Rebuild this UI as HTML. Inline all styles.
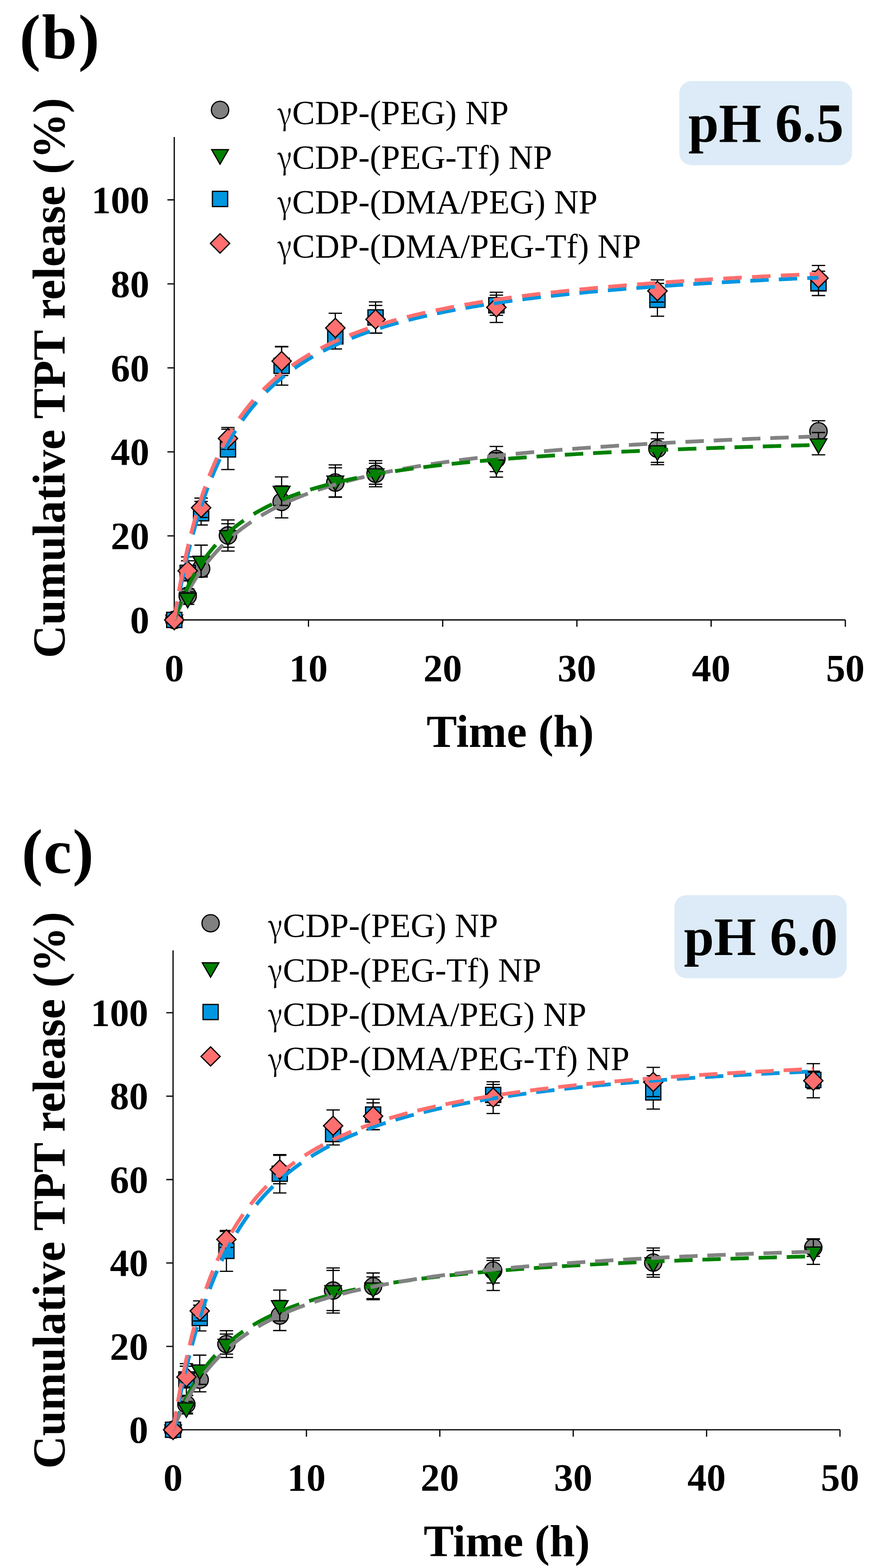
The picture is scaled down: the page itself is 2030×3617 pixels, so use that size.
<!DOCTYPE html>
<html><head><meta charset="utf-8"><title>Cumulative TPT release</title>
<style>html,body{margin:0;padding:0;background:#fff;}svg{display:block;}</style>
</head><body>
<svg width="2030" height="3617" viewBox="0 0 2030 3617" font-family="'Liberation Serif','Times New Roman',serif">
<rect width="2030" height="3617" fill="#fff"/>
<path d="M402 316V1430H1950M386.2 1430H402M386.2 1236.2H402M386.2 1042.4H402M386.2 848.6H402M386.2 654.8H402M386.2 461H402M402 1430V1445.8M711.6 1430V1445.8M1021.2 1430V1445.8M1330.8 1430V1445.8M1640.4 1430V1445.8M1950 1430V1445.8" stroke="#000" stroke-width="2.8" fill="none"/>
<g font-size="89" font-weight="bold"><text x="344.4" y="1460" text-anchor="end">0</text><text x="344.4" y="1266.2" text-anchor="end">20</text><text x="344.4" y="1072.4" text-anchor="end">40</text><text x="344.4" y="878.6" text-anchor="end">60</text><text x="344.4" y="684.8" text-anchor="end">80</text><text x="344.4" y="491" text-anchor="end">100</text><text x="402" y="1570.5" text-anchor="middle">0</text><text x="711.6" y="1570.5" text-anchor="middle">10</text><text x="1021.2" y="1570.5" text-anchor="middle">20</text><text x="1330.8" y="1570.5" text-anchor="middle">30</text><text x="1640.4" y="1570.5" text-anchor="middle">40</text><text x="1950" y="1570.5" text-anchor="middle">50</text></g>
<text transform="translate(148.6,872.1) rotate(-90)" text-anchor="middle" font-size="105.5" font-weight="bold">Cumulative TPT release (%)</text>
<text x="1177" y="1722.9" text-anchor="middle" font-size="105" font-weight="bold">Time (h)</text>
<text x="45" y="135" font-size="146" font-weight="bold" letter-spacing="3">(b)</text>
<rect x="1567" y="187" width="398.6" height="194" rx="28" fill="#dcebf7"/>
<text x="1587.7" y="327" font-size="126.5" font-weight="bold">pH 6.5</text>
<circle cx="507.6" cy="253.7" r="20" fill="#808080" stroke="#000" stroke-width="2.8"/>
<text transform="translate(639.4,287.6) scale(0.878,1)" font-family="'Noto Serif CJK SC',serif" font-size="72.6">γ</text>
<text x="674.09" y="286.3" font-size="78.5">CDP-(PEG) NP</text>
<polygon points="488.26,345.13 526.94,345.13 507.6,378.63" fill="#008000" stroke="#000" stroke-width="2.8"/>
<text transform="translate(639.4,390.2) scale(0.878,1)" font-family="'Noto Serif CJK SC',serif" font-size="72.6">γ</text>
<text x="674.09" y="388.9" font-size="78.5">CDP-(PEG-Tf) NP</text>
<rect x="490" y="441.3" width="35.2" height="35.2" fill="#0096e0" stroke="#000" stroke-width="2.8"/>
<text transform="translate(639.4,492.8) scale(0.878,1)" font-family="'Noto Serif CJK SC',serif" font-size="72.6">γ</text>
<text x="674.09" y="491.5" font-size="78.5">CDP-(DMA/PEG) NP</text>
<polygon points="507.6,539.2 529.9,561.5 507.6,583.8 485.3,561.5" fill="#ff6f6f" stroke="#000" stroke-width="2.8"/>
<text transform="translate(639.4,595.4) scale(0.878,1)" font-family="'Noto Serif CJK SC',serif" font-size="72.6">γ</text>
<text x="674.09" y="594.1" font-size="78.5">CDP-(DMA/PEG-Tf) NP</text>
<g stroke="#000" stroke-width="2.8" fill="none"><path d="M432.96 1359.94V1389.01M417.46 1359.94H448.46M417.46 1389.01H448.46"/><path d="M463.92 1295.31V1328.25M448.42 1295.31H479.42M448.42 1328.25H479.42"/><path d="M525.84 1199.38V1271.08M510.34 1199.38H541.34M510.34 1271.08H541.34"/><path d="M649.68 1120.89V1194.53M634.18 1120.89H665.18M634.18 1194.53H665.18"/><path d="M773.52 1079.22V1147.05M758.02 1079.22H789.02M758.02 1147.05H789.02"/><path d="M866.4 1062.75V1122.83M850.9 1062.75H881.9M850.9 1122.83H881.9"/><path d="M1145.04 1029.8V1087.94M1129.54 1029.8H1160.54M1129.54 1087.94H1160.54"/><path d="M1516.56 998.21V1071.86M1501.06 998.21H1532.06M1501.06 1071.86H1532.06"/><path d="M1888.08 970.69V1019.14M1872.58 970.69H1903.58M1872.58 1019.14H1903.58"/></g>
<circle cx="402" cy="1430" r="20" fill="#808080" stroke="#000" stroke-width="2.8"/>
<circle cx="432.96" cy="1374.48" r="20" fill="#808080" stroke="#000" stroke-width="2.8"/>
<circle cx="463.92" cy="1311.78" r="20" fill="#808080" stroke="#000" stroke-width="2.8"/>
<circle cx="525.84" cy="1235.23" r="20" fill="#808080" stroke="#000" stroke-width="2.8"/>
<circle cx="649.68" cy="1157.71" r="20" fill="#808080" stroke="#000" stroke-width="2.8"/>
<circle cx="773.52" cy="1113.14" r="20" fill="#808080" stroke="#000" stroke-width="2.8"/>
<circle cx="866.4" cy="1092.79" r="20" fill="#808080" stroke="#000" stroke-width="2.8"/>
<circle cx="1145.04" cy="1058.87" r="20" fill="#808080" stroke="#000" stroke-width="2.8"/>
<circle cx="1516.56" cy="1035.04" r="20" fill="#808080" stroke="#000" stroke-width="2.8"/>
<circle cx="1888.08" cy="994.92" r="20" fill="#808080" stroke="#000" stroke-width="2.8"/>
<g stroke="#000" stroke-width="2.8" fill="none"><path d="M432.96 1365.08V1394.15M417.46 1365.08H448.46M417.46 1394.15H448.46"/><path d="M463.92 1257.52V1331.16M448.42 1257.52H479.42M448.42 1331.16H479.42"/><path d="M525.84 1208.1V1262.36M510.34 1208.1H541.34M510.34 1262.36H541.34"/><path d="M649.68 1100.06V1165.95M634.18 1100.06H665.18M634.18 1165.95H665.18"/><path d="M773.52 1072.44V1146.08M758.02 1072.44H789.02M758.02 1146.08H789.02"/><path d="M866.4 1068.56V1117.01M850.9 1068.56H881.9M850.9 1117.01H881.9"/><path d="M1145.04 1044.34V1100.54M1129.54 1044.34H1160.54M1129.54 1100.54H1160.54"/><path d="M1516.56 1012.36V1066.62M1501.06 1012.36H1532.06M1501.06 1066.62H1532.06"/><path d="M1888.08 997.73V1049.09M1872.58 997.73H1903.58M1872.58 1049.09H1903.58"/></g>
<polygon points="382.66,1418.83 421.34,1418.83 402,1452.33" fill="#008000" stroke="#000" stroke-width="2.8"/>
<polygon points="413.62,1368.45 452.3,1368.45 432.96,1401.95" fill="#008000" stroke="#000" stroke-width="2.8"/>
<polygon points="444.58,1283.17 483.26,1283.17 463.92,1316.67" fill="#008000" stroke="#000" stroke-width="2.8"/>
<polygon points="506.5,1224.06 545.18,1224.06 525.84,1257.56" fill="#008000" stroke="#000" stroke-width="2.8"/>
<polygon points="630.34,1121.83 669.02,1121.83 649.68,1155.33" fill="#008000" stroke="#000" stroke-width="2.8"/>
<polygon points="754.18,1098.09 792.86,1098.09 773.52,1131.59" fill="#008000" stroke="#000" stroke-width="2.8"/>
<polygon points="847.06,1081.62 885.74,1081.62 866.4,1115.12" fill="#008000" stroke="#000" stroke-width="2.8"/>
<polygon points="1125.7,1061.27 1164.38,1061.27 1145.04,1094.77" fill="#008000" stroke="#000" stroke-width="2.8"/>
<polygon points="1497.22,1028.33 1535.9,1028.33 1516.56,1061.83" fill="#008000" stroke="#000" stroke-width="2.8"/>
<polygon points="1868.74,1012.24 1907.42,1012.24 1888.08,1045.74" fill="#008000" stroke="#000" stroke-width="2.8"/>
<g stroke="#000" stroke-width="2.8" fill="none"><path d="M432.96 1284.65V1358.29M417.46 1284.65H448.46M417.46 1358.29H448.46"/><path d="M463.92 1156.74V1211.01M448.42 1156.74H479.42M448.42 1211.01H479.42"/><path d="M525.84 990.07V1083.1M510.34 990.07H541.34M510.34 1083.1H541.34"/><path d="M649.68 799.18V888.33M634.18 799.18H665.18M634.18 888.33H665.18"/><path d="M773.52 746.86V805M758.02 746.86H789.02M758.02 805H789.02"/><path d="M866.4 696.47V768.17M850.9 696.47H881.9M850.9 768.17H881.9"/><path d="M1145.04 680.96V727.47M1129.54 680.96H1160.54M1129.54 727.47H1160.54"/><path d="M1516.56 653.83V729.41M1501.06 653.83H1532.06M1501.06 729.41H1532.06"/><path d="M1888.08 625.54V681.74M1872.58 625.54H1903.58M1872.58 681.74H1903.58"/></g>
<rect x="384.4" y="1412.4" width="35.2" height="35.2" fill="#0096e0" stroke="#000" stroke-width="2.8"/>
<rect x="415.36" y="1303.87" width="35.2" height="35.2" fill="#0096e0" stroke="#000" stroke-width="2.8"/>
<rect x="446.32" y="1166.27" width="35.2" height="35.2" fill="#0096e0" stroke="#000" stroke-width="2.8"/>
<rect x="508.24" y="1018.99" width="35.2" height="35.2" fill="#0096e0" stroke="#000" stroke-width="2.8"/>
<rect x="632.08" y="826.15" width="35.2" height="35.2" fill="#0096e0" stroke="#000" stroke-width="2.8"/>
<rect x="755.92" y="758.33" width="35.2" height="35.2" fill="#0096e0" stroke="#000" stroke-width="2.8"/>
<rect x="848.8" y="714.72" width="35.2" height="35.2" fill="#0096e0" stroke="#000" stroke-width="2.8"/>
<rect x="1127.44" y="686.62" width="35.2" height="35.2" fill="#0096e0" stroke="#000" stroke-width="2.8"/>
<rect x="1498.96" y="674.02" width="35.2" height="35.2" fill="#0096e0" stroke="#000" stroke-width="2.8"/>
<rect x="1870.48" y="636.04" width="35.2" height="35.2" fill="#0096e0" stroke="#000" stroke-width="2.8"/>
<g stroke="#000" stroke-width="2.8" fill="none"><path d="M432.96 1293.56V1340.08M417.46 1293.56H448.46M417.46 1340.08H448.46"/><path d="M463.92 1148.99V1193.56M448.42 1148.99H479.42M448.42 1193.56H479.42"/><path d="M525.84 986.2V1036.59M510.34 986.2H541.34M510.34 1036.59H541.34"/><path d="M649.68 800.15V866.04M634.18 800.15H665.18M634.18 866.04H665.18"/><path d="M773.52 722.63V790.46M758.02 722.63H789.02M758.02 790.46H789.02"/><path d="M866.4 704.7V768.66M850.9 704.7H881.9M850.9 768.66H881.9"/><path d="M1145.04 674.18V743.95M1129.54 674.18H1160.54M1129.54 743.95H1160.54"/><path d="M1516.56 645.59V696.95M1501.06 645.59H1532.06M1501.06 696.95H1532.06"/><path d="M1888.08 612.45V670.59M1872.58 612.45H1903.58M1872.58 670.59H1903.58"/></g>
<polygon points="402,1407.7 424.3,1430 402,1452.3 379.7,1430" fill="#ff6f6f" stroke="#000" stroke-width="2.8"/>
<polygon points="432.96,1294.52 455.26,1316.82 432.96,1339.12 410.66,1316.82" fill="#ff6f6f" stroke="#000" stroke-width="2.8"/>
<polygon points="463.92,1148.98 486.22,1171.28 463.92,1193.58 441.62,1171.28" fill="#ff6f6f" stroke="#000" stroke-width="2.8"/>
<polygon points="525.84,989.09 548.14,1011.39 525.84,1033.69 503.54,1011.39" fill="#ff6f6f" stroke="#000" stroke-width="2.8"/>
<polygon points="649.68,810.8 671.98,833.1 649.68,855.4 627.38,833.1" fill="#ff6f6f" stroke="#000" stroke-width="2.8"/>
<polygon points="773.52,734.25 795.82,756.55 773.52,778.85 751.22,756.55" fill="#ff6f6f" stroke="#000" stroke-width="2.8"/>
<polygon points="866.4,714.38 888.7,736.68 866.4,758.98 844.1,736.68" fill="#ff6f6f" stroke="#000" stroke-width="2.8"/>
<polygon points="1145.04,686.76 1167.34,709.06 1145.04,731.36 1122.74,709.06" fill="#ff6f6f" stroke="#000" stroke-width="2.8"/>
<polygon points="1516.56,648.97 1538.86,671.27 1516.56,693.57 1494.26,671.27" fill="#ff6f6f" stroke="#000" stroke-width="2.8"/>
<polygon points="1888.08,619.22 1910.38,641.52 1888.08,663.82 1865.78,641.52" fill="#ff6f6f" stroke="#000" stroke-width="2.8"/>
<polyline points="402,1430 402.01,1429.99 402.02,1429.94 402.05,1429.87 402.1,1429.77 402.15,1429.64 402.21,1429.49 402.29,1429.3 402.38,1429.09 402.48,1428.84 402.59,1428.57 402.72,1428.28 402.86,1427.95 403,1427.6 403.17,1427.21 403.34,1426.8 403.52,1426.37 403.72,1425.9 403.93,1425.41 404.15,1424.89 404.38,1424.35 404.62,1423.77 404.88,1423.18 405.14,1422.55 405.42,1421.9 405.72,1421.22 406.02,1420.52 406.33,1419.8 406.66,1419.04 407,1418.27 407.35,1417.46 407.71,1416.64 408.09,1415.79 408.47,1414.91 408.87,1414.02 409.28,1413.1 409.7,1412.15 410.14,1411.19 410.58,1410.2 411.04,1409.19 411.51,1408.16 411.99,1407.1 412.49,1406.03 412.99,1404.94 413.51,1403.82 414.04,1402.69 414.58,1401.53 415.13,1400.36 415.7,1399.16 416.27,1397.95 416.86,1396.72 417.46,1395.47 418.07,1394.21 418.7,1392.93 419.33,1391.63 419.98,1390.31 420.64,1388.98 421.31,1387.63 422,1386.27 422.69,1384.89 423.4,1383.5 424.12,1382.09 424.85,1380.67 425.59,1379.24 426.35,1377.79 427.11,1376.33 427.89,1374.85 428.68,1373.37 429.49,1371.87 430.3,1370.36 431.13,1368.84 431.97,1367.31 432.82,1365.77 433.68,1364.22 434.55,1362.66 435.44,1361.09 436.33,1359.52 437.24,1357.93 438.17,1356.33 439.1,1354.73 440.04,1353.12 441,1351.5 441.97,1349.88 442.95,1348.25 443.94,1346.61 444.95,1344.96 445.96,1343.32 446.99,1341.66 448.03,1340 449.08,1338.34 450.15,1336.67 451.22,1334.99 452.31,1333.32 453.41,1331.64 454.52,1329.95 455.65,1328.27 456.78,1326.58 457.93,1324.89 459.09,1323.19 460.26,1321.5 461.44,1319.8 462.64,1318.1 463.84,1316.4 465.06,1314.7 466.29,1313 467.54,1311.3 468.79,1309.59 470.06,1307.89 471.33,1306.19 472.62,1304.49 473.93,1302.79 475.24,1301.09 476.57,1299.39 477.9,1297.69 479.25,1296 480.61,1294.3 481.99,1292.61 483.37,1290.92 484.77,1289.23 486.18,1287.55 487.6,1285.86 489.03,1284.18 490.48,1282.51 491.93,1280.83 493.4,1279.16 494.88,1277.5 496.37,1275.83 497.88,1274.17 499.39,1272.52 500.92,1270.87 502.46,1269.22 504.01,1267.57 505.57,1265.94 507.15,1264.3 508.74,1262.67 510.34,1261.05 511.95,1259.43 513.57,1257.81 515.2,1256.2 516.85,1254.6 518.51,1253 520.18,1251.4 521.86,1249.82 523.56,1248.23 525.26,1246.66 526.98,1245.08 528.71,1243.52 530.45,1241.96 532.2,1240.41 533.97,1238.86 535.75,1237.32 537.54,1235.78 539.34,1234.25 541.15,1232.73 542.98,1231.21 544.81,1229.7 546.66,1228.2 548.52,1226.7 550.39,1225.21 552.28,1223.73 554.17,1222.25 556.08,1220.78 558,1219.32 559.93,1217.86 561.88,1216.41 563.83,1214.97 565.8,1213.54 567.78,1212.11 569.77,1210.68 571.78,1209.27 573.79,1207.86 575.82,1206.46 577.86,1205.07 579.91,1203.68 581.97,1202.3 584.04,1200.93 586.13,1199.56 588.23,1198.2 590.34,1196.85 592.46,1195.51 594.6,1194.17 596.74,1192.84 598.9,1191.52 601.07,1190.2 603.25,1188.89 605.44,1187.59 607.65,1186.3 609.87,1185.01 612.1,1183.73 614.34,1182.46 616.59,1181.19 618.85,1179.93 621.13,1178.68 623.42,1177.44 625.72,1176.2 628.03,1174.97 630.36,1173.75 632.69,1172.53 635.04,1171.32 637.4,1170.12 639.77,1168.92 642.16,1167.74 644.55,1166.56 646.96,1165.38 649.38,1164.21 651.81,1163.05 654.25,1161.9 656.71,1160.75 659.18,1159.62 661.65,1158.48 664.14,1157.36 666.65,1156.24 669.16,1155.13 671.69,1154.02 674.23,1152.92 676.78,1151.83 679.34,1150.74 681.91,1149.66 684.5,1148.59 687.1,1147.53 689.71,1146.47 692.33,1145.42 694.96,1144.37 697.61,1143.33 700.26,1142.3 702.93,1141.27 705.61,1140.25 708.3,1139.24 711.01,1138.23 713.73,1137.23 716.45,1136.23 719.19,1135.24 721.95,1134.26 724.71,1133.28 727.49,1132.31 730.28,1131.35 733.07,1130.39 735.89,1129.44 738.71,1128.49 741.55,1127.55 744.39,1126.62 747.25,1125.69 750.12,1124.77 753.01,1123.85 755.9,1122.94 758.81,1122.04 761.73,1121.14 764.66,1120.25 767.6,1119.36 770.55,1118.48 773.52,1117.6 776.5,1116.73 779.49,1115.86 782.49,1115.01 785.5,1114.15 788.53,1113.3 791.57,1112.46 794.62,1111.62 797.68,1110.79 800.75,1109.96 803.84,1109.14 806.93,1108.32 810.04,1107.51 813.16,1106.71 816.3,1105.91 819.44,1105.11 822.6,1104.32 825.76,1103.53 828.94,1102.75 832.14,1101.98 835.34,1101.21 838.56,1100.44 841.78,1099.68 845.02,1098.93 848.28,1098.17 851.54,1097.43 854.81,1096.69 858.1,1095.95 861.4,1095.22 864.71,1094.49 868.03,1093.77 871.37,1093.05 874.72,1092.34 878.07,1091.63 881.45,1090.92 884.83,1090.23 888.22,1089.53 891.63,1088.84 895.05,1088.15 898.48,1087.47 901.92,1086.79 905.37,1086.12 908.84,1085.45 912.31,1084.79 915.8,1084.13 919.3,1083.47 922.82,1082.82 926.34,1082.17 929.88,1081.53 933.43,1080.89 936.99,1080.25 940.56,1079.62 944.15,1078.99 947.74,1078.37 951.35,1077.75 954.97,1077.13 958.6,1076.52 962.25,1075.91 965.9,1075.31 969.57,1074.71 973.25,1074.11 976.94,1073.52 980.64,1072.93 984.36,1072.35 988.09,1071.77 991.83,1071.19 995.58,1070.61 999.34,1070.04 1003.11,1069.48 1006.9,1068.91 1010.7,1068.35 1014.51,1067.8 1018.33,1067.24 1022.16,1066.69 1026.01,1066.15 1029.87,1065.6 1033.74,1065.07 1037.62,1064.53 1041.51,1064 1045.42,1063.47 1049.34,1062.94 1053.27,1062.42 1057.21,1061.9 1061.16,1061.38 1065.12,1060.87 1069.1,1060.36 1073.09,1059.85 1077.09,1059.35 1081.1,1058.85 1085.13,1058.35 1089.16,1057.86 1093.21,1057.37 1097.27,1056.88 1101.34,1056.39 1105.43,1055.91 1109.52,1055.43 1113.63,1054.96 1117.75,1054.48 1121.88,1054.01 1126.02,1053.54 1130.18,1053.08 1134.35,1052.62 1138.53,1052.16 1142.72,1051.7 1146.92,1051.25 1151.13,1050.8 1155.36,1050.35 1159.6,1049.9 1163.85,1049.46 1168.11,1049.02 1172.38,1048.58 1176.67,1048.15 1180.97,1047.72 1185.28,1047.29 1189.6,1046.86 1193.93,1046.44 1198.28,1046.02 1202.63,1045.6 1207,1045.18 1211.38,1044.76 1215.78,1044.35 1220.18,1043.94 1224.6,1043.54 1229.03,1043.13 1233.47,1042.73 1237.92,1042.33 1242.38,1041.93 1246.86,1041.54 1251.35,1041.15 1255.85,1040.76 1260.36,1040.37 1264.88,1039.98 1269.42,1039.6 1273.97,1039.22 1278.53,1038.84 1283.1,1038.46 1287.68,1038.09 1292.27,1037.71 1296.88,1037.34 1301.5,1036.98 1306.13,1036.61 1310.77,1036.25 1315.43,1035.88 1320.09,1035.52 1324.77,1035.17 1329.46,1034.81 1334.16,1034.46 1338.88,1034.11 1343.6,1033.76 1348.34,1033.41 1353.09,1033.07 1357.85,1032.72 1362.63,1032.38 1367.41,1032.04 1372.21,1031.7 1377.02,1031.37 1381.84,1031.04 1386.67,1030.7 1391.52,1030.37 1396.37,1030.05 1401.24,1029.72 1406.12,1029.4 1411.01,1029.07 1415.92,1028.75 1420.83,1028.43 1425.76,1028.12 1430.7,1027.8 1435.65,1027.49 1440.62,1027.18 1445.59,1026.87 1450.58,1026.56 1455.58,1026.25 1460.59,1025.95 1465.61,1025.65 1470.65,1025.34 1475.69,1025.04 1480.75,1024.75 1485.82,1024.45 1490.9,1024.16 1496,1023.86 1501.1,1023.57 1506.22,1023.28 1511.35,1022.99 1516.49,1022.71 1521.65,1022.42 1526.81,1022.14 1531.99,1021.86 1537.18,1021.58 1542.38,1021.3 1547.6,1021.02 1552.82,1020.75 1558.06,1020.47 1563.31,1020.2 1568.57,1019.93 1573.84,1019.66 1579.12,1019.39 1584.42,1019.12 1589.73,1018.86 1595.05,1018.59 1600.38,1018.33 1605.72,1018.07 1611.08,1017.81 1616.45,1017.55 1621.83,1017.29 1627.22,1017.04 1632.62,1016.78 1638.04,1016.53 1643.47,1016.28 1648.9,1016.03 1654.36,1015.78 1659.82,1015.53 1665.29,1015.29 1670.78,1015.04 1676.28,1014.8 1681.79,1014.56 1687.31,1014.32 1692.84,1014.08 1698.39,1013.84 1703.95,1013.6 1709.52,1013.36 1715.1,1013.13 1720.69,1012.9 1726.3,1012.66 1731.92,1012.43 1737.55,1012.2 1743.19,1011.98 1748.84,1011.75 1754.51,1011.52 1760.18,1011.3 1765.87,1011.07 1771.57,1010.85 1777.28,1010.63 1783.01,1010.41 1788.74,1010.19 1794.49,1009.97 1800.25,1009.75 1806.02,1009.54 1811.81,1009.32 1817.6,1009.11 1823.41,1008.9 1829.23,1008.68 1835.06,1008.47 1840.91,1008.26 1846.76,1008.06 1852.63,1007.85 1858.51,1007.64 1864.4,1007.44 1870.3,1007.23 1876.22,1007.03 1882.14,1006.83 1888.08,1006.63" fill="none" stroke="#828282" stroke-width="8.7" stroke-dasharray="46.72 25.73 50.03 28.25 56.97 30.89 53.39 26.96 48.35 25.1 45.87 24.15 44.57 23.63 43.83 23.33 43.39 23.15 43.12 23.03 42.95 22.95 42.83 22.9 42.75 22.87 42.69 22.84 42.65 22.82 42.62 22.81 42.59 22.79 42.58 22.79 42.56 22.78 42.55 22.77 42.54 22.77 42.54 22.77 42.53 22.76 42.53 1000"/>
<polyline points="402,1430 402.01,1429.98 402.02,1429.93 402.05,1429.84 402.1,1429.72 402.15,1429.56 402.21,1429.37 402.29,1429.14 402.38,1428.88 402.48,1428.58 402.59,1428.25 402.72,1427.88 402.86,1427.48 403,1427.05 403.17,1426.58 403.34,1426.08 403.52,1425.55 403.72,1424.98 403.93,1424.38 404.15,1423.74 404.38,1423.08 404.62,1422.38 404.88,1421.65 405.14,1420.89 405.42,1420.1 405.72,1419.28 406.02,1418.43 406.33,1417.54 406.66,1416.63 407,1415.69 407.35,1414.72 407.71,1413.73 408.09,1412.7 408.47,1411.65 408.87,1410.57 409.28,1409.46 409.7,1408.33 410.14,1407.17 410.58,1405.99 411.04,1404.78 411.51,1403.55 411.99,1402.29 412.49,1401.01 412.99,1399.71 413.51,1398.39 414.04,1397.04 414.58,1395.68 415.13,1394.29 415.7,1392.88 416.27,1391.46 416.86,1390.01 417.46,1388.54 418.07,1387.06 418.7,1385.56 419.33,1384.04 419.98,1382.51 420.64,1380.96 421.31,1379.39 422,1377.81 422.69,1376.22 423.4,1374.61 424.12,1372.98 424.85,1371.35 425.59,1369.7 426.35,1368.04 427.11,1366.37 427.89,1364.68 428.68,1362.99 429.49,1361.29 430.3,1359.57 431.13,1357.85 431.97,1356.12 432.82,1354.38 433.68,1352.63 434.55,1350.88 435.44,1349.12 436.33,1347.35 437.24,1345.58 438.17,1343.8 439.1,1342.01 440.04,1340.22 441,1338.43 441.97,1336.63 442.95,1334.83 443.94,1333.03 444.95,1331.22 445.96,1329.41 446.99,1327.6 448.03,1325.79 449.08,1323.98 450.15,1322.16 451.22,1320.35 452.31,1318.53 453.41,1316.72 454.52,1314.9 455.65,1313.09 456.78,1311.27 457.93,1309.46 459.09,1307.65 460.26,1305.84 461.44,1304.04 462.64,1302.23 463.84,1300.43 465.06,1298.63 466.29,1296.84 467.54,1295.05 468.79,1293.26 470.06,1291.47 471.33,1289.69 472.62,1287.92 473.93,1286.15 475.24,1284.38 476.57,1282.62 477.9,1280.86 479.25,1279.11 480.61,1277.36 481.99,1275.62 483.37,1273.89 484.77,1272.16 486.18,1270.44 487.6,1268.72 489.03,1267.01 490.48,1265.31 491.93,1263.61 493.4,1261.93 494.88,1260.24 496.37,1258.57 497.88,1256.9 499.39,1255.24 500.92,1253.59 502.46,1251.94 504.01,1250.3 505.57,1248.67 507.15,1247.05 508.74,1245.43 510.34,1243.83 511.95,1242.23 513.57,1240.64 515.2,1239.05 516.85,1237.48 518.51,1235.91 520.18,1234.36 521.86,1232.81 523.56,1231.27 525.26,1229.73 526.98,1228.21 528.71,1226.69 530.45,1225.19 532.2,1223.69 533.97,1222.2 535.75,1220.72 537.54,1219.25 539.34,1217.78 541.15,1216.33 542.98,1214.88 544.81,1213.45 546.66,1212.02 548.52,1210.6 550.39,1209.19 552.28,1207.78 554.17,1206.39 556.08,1205.01 558,1203.63 559.93,1202.26 561.88,1200.9 563.83,1199.56 565.8,1198.21 567.78,1196.88 569.77,1195.56 571.78,1194.25 573.79,1192.94 575.82,1191.64 577.86,1190.35 579.91,1189.07 581.97,1187.8 584.04,1186.54 586.13,1185.29 588.23,1184.04 590.34,1182.8 592.46,1181.57 594.6,1180.35 596.74,1179.14 598.9,1177.94 601.07,1176.74 603.25,1175.56 605.44,1174.38 607.65,1173.21 609.87,1172.05 612.1,1170.89 614.34,1169.75 616.59,1168.61 618.85,1167.48 621.13,1166.36 623.42,1165.25 625.72,1164.14 628.03,1163.04 630.36,1161.95 632.69,1160.87 635.04,1159.8 637.4,1158.73 639.77,1157.67 642.16,1156.62 644.55,1155.58 646.96,1154.54 649.38,1153.52 651.81,1152.49 654.25,1151.48 656.71,1150.48 659.18,1149.48 661.65,1148.49 664.14,1147.5 666.65,1146.52 669.16,1145.55 671.69,1144.59 674.23,1143.64 676.78,1142.69 679.34,1141.75 681.91,1140.81 684.5,1139.88 687.1,1138.96 689.71,1138.05 692.33,1137.14 694.96,1136.24 697.61,1135.35 700.26,1134.46 702.93,1133.58 705.61,1132.7 708.3,1131.84 711.01,1130.97 713.73,1130.12 716.45,1129.27 719.19,1128.43 721.95,1127.59 724.71,1126.76 727.49,1125.94 730.28,1125.12 733.07,1124.31 735.89,1123.5 738.71,1122.7 741.55,1121.91 744.39,1121.12 747.25,1120.34 750.12,1119.56 753.01,1118.79 755.9,1118.02 758.81,1117.26 761.73,1116.51 764.66,1115.76 767.6,1115.02 770.55,1114.28 773.52,1113.55 776.5,1112.82 779.49,1112.1 782.49,1111.39 785.5,1110.68 788.53,1109.97 791.57,1109.27 794.62,1108.58 797.68,1107.89 800.75,1107.2 803.84,1106.52 806.93,1105.85 810.04,1105.18 813.16,1104.51 816.3,1103.85 819.44,1103.19 822.6,1102.54 825.76,1101.9 828.94,1101.26 832.14,1100.62 835.34,1099.99 838.56,1099.36 841.78,1098.74 845.02,1098.12 848.28,1097.51 851.54,1096.9 854.81,1096.29 858.1,1095.69 861.4,1095.1 864.71,1094.5 868.03,1093.92 871.37,1093.33 874.72,1092.75 878.07,1092.18 881.45,1091.61 884.83,1091.04 888.22,1090.48 891.63,1089.92 895.05,1089.37 898.48,1088.82 901.92,1088.27 905.37,1087.73 908.84,1087.19 912.31,1086.65 915.8,1086.12 919.3,1085.59 922.82,1085.07 926.34,1084.55 929.88,1084.03 933.43,1083.52 936.99,1083.01 940.56,1082.5 944.15,1082 947.74,1081.5 951.35,1081.01 954.97,1080.52 958.6,1080.03 962.25,1079.54 965.9,1079.06 969.57,1078.59 973.25,1078.11 976.94,1077.64 980.64,1077.17 984.36,1076.71 988.09,1076.25 991.83,1075.79 995.58,1075.33 999.34,1074.88 1003.11,1074.43 1006.9,1073.99 1010.7,1073.54 1014.51,1073.1 1018.33,1072.67 1022.16,1072.23 1026.01,1071.8 1029.87,1071.37 1033.74,1070.95 1037.62,1070.53 1041.51,1070.11 1045.42,1069.69 1049.34,1069.28 1053.27,1068.87 1057.21,1068.46 1061.16,1068.06 1065.12,1067.65 1069.1,1067.25 1073.09,1066.86 1077.09,1066.46 1081.1,1066.07 1085.13,1065.68 1089.16,1065.3 1093.21,1064.91 1097.27,1064.53 1101.34,1064.15 1105.43,1063.78 1109.52,1063.4 1113.63,1063.03 1117.75,1062.66 1121.88,1062.3 1126.02,1061.93 1130.18,1061.57 1134.35,1061.21 1138.53,1060.86 1142.72,1060.5 1146.92,1060.15 1151.13,1059.8 1155.36,1059.45 1159.6,1059.11 1163.85,1058.76 1168.11,1058.42 1172.38,1058.08 1176.67,1057.75 1180.97,1057.41 1185.28,1057.08 1189.6,1056.75 1193.93,1056.43 1198.28,1056.1 1202.63,1055.78 1207,1055.45 1211.38,1055.14 1215.78,1054.82 1220.18,1054.5 1224.6,1054.19 1229.03,1053.88 1233.47,1053.57 1237.92,1053.26 1242.38,1052.96 1246.86,1052.65 1251.35,1052.35 1255.85,1052.05 1260.36,1051.76 1264.88,1051.46 1269.42,1051.17 1273.97,1050.87 1278.53,1050.58 1283.1,1050.3 1287.68,1050.01 1292.27,1049.72 1296.88,1049.44 1301.5,1049.16 1306.13,1048.88 1310.77,1048.6 1315.43,1048.33 1320.09,1048.05 1324.77,1047.78 1329.46,1047.51 1334.16,1047.24 1338.88,1046.97 1343.6,1046.71 1348.34,1046.44 1353.09,1046.18 1357.85,1045.92 1362.63,1045.66 1367.41,1045.4 1372.21,1045.14 1377.02,1044.89 1381.84,1044.64 1386.67,1044.38 1391.52,1044.13 1396.37,1043.89 1401.24,1043.64 1406.12,1043.39 1411.01,1043.15 1415.92,1042.91 1420.83,1042.66 1425.76,1042.42 1430.7,1042.19 1435.65,1041.95 1440.62,1041.71 1445.59,1041.48 1450.58,1041.25 1455.58,1041.02 1460.59,1040.79 1465.61,1040.56 1470.65,1040.33 1475.69,1040.1 1480.75,1039.88 1485.82,1039.66 1490.9,1039.43 1496,1039.21 1501.1,1038.99 1506.22,1038.77 1511.35,1038.56 1516.49,1038.34 1521.65,1038.13 1526.81,1037.91 1531.99,1037.7 1537.18,1037.49 1542.38,1037.28 1547.6,1037.07 1552.82,1036.87 1558.06,1036.66 1563.31,1036.46 1568.57,1036.25 1573.84,1036.05 1579.12,1035.85 1584.42,1035.65 1589.73,1035.45 1595.05,1035.25 1600.38,1035.06 1605.72,1034.86 1611.08,1034.67 1616.45,1034.47 1621.83,1034.28 1627.22,1034.09 1632.62,1033.9 1638.04,1033.71 1643.47,1033.52 1648.9,1033.34 1654.36,1033.15 1659.82,1032.97 1665.29,1032.78 1670.78,1032.6 1676.28,1032.42 1681.79,1032.24 1687.31,1032.06 1692.84,1031.88 1698.39,1031.7 1703.95,1031.52 1709.52,1031.35 1715.1,1031.17 1720.69,1031 1726.3,1030.83 1731.92,1030.65 1737.55,1030.48 1743.19,1030.31 1748.84,1030.14 1754.51,1029.98 1760.18,1029.81 1765.87,1029.64 1771.57,1029.48 1777.28,1029.31 1783.01,1029.15 1788.74,1028.99 1794.49,1028.82 1800.25,1028.66 1806.02,1028.5 1811.81,1028.34 1817.6,1028.18 1823.41,1028.03 1829.23,1027.87 1835.06,1027.71 1840.91,1027.56 1846.76,1027.41 1852.63,1027.25 1858.51,1027.1 1864.4,1026.95 1870.3,1026.8 1876.22,1026.65 1882.14,1026.5 1888.08,1026.35" fill="none" stroke="#008000" stroke-width="8.7" stroke-dasharray="45.38 24.84 47.98 26.92 54.04 31.49 54.52 27.07 48.18 24.91 45.47 23.93 44.19 23.45 43.53 23.19 43.16 23.04 42.94 22.95 42.81 22.89 42.72 22.85 42.66 22.82 42.62 22.81 42.59 22.79 42.57 22.78 42.56 22.78 42.55 22.77 42.54 22.77 42.53 22.76 42.52 22.76 42.52 22.76 42.52 22.76 42.51 1000"/>
<polyline points="402,1430 402.01,1429.98 402.02,1429.9 402.05,1429.77 402.1,1429.58 402.15,1429.33 402.21,1429.02 402.29,1428.65 402.38,1428.21 402.48,1427.71 402.59,1427.14 402.72,1426.51 402.86,1425.82 403,1425.05 403.17,1424.23 403.34,1423.33 403.52,1422.38 403.72,1421.35 403.93,1420.26 404.15,1419.11 404.38,1417.88 404.62,1416.6 404.88,1415.25 405.14,1413.83 405.42,1412.35 405.72,1410.81 406.02,1409.2 406.33,1407.53 406.66,1405.8 407,1404 407.35,1402.15 407.71,1400.23 408.09,1398.26 408.47,1396.22 408.87,1394.13 409.28,1391.98 409.7,1389.77 410.14,1387.51 410.58,1385.19 411.04,1382.82 411.51,1380.39 411.99,1377.92 412.49,1375.39 412.99,1372.81 413.51,1370.18 414.04,1367.5 414.58,1364.77 415.13,1362 415.7,1359.18 416.27,1356.32 416.86,1353.41 417.46,1350.46 418.07,1347.48 418.7,1344.45 419.33,1341.38 419.98,1338.27 420.64,1335.13 421.31,1331.95 422,1328.74 422.69,1325.49 423.4,1322.21 424.12,1318.9 424.85,1315.56 425.59,1312.19 426.35,1308.79 427.11,1305.37 427.89,1301.92 428.68,1298.44 429.49,1294.94 430.3,1291.42 431.13,1287.88 431.97,1284.32 432.82,1280.74 433.68,1277.14 434.55,1273.52 435.44,1269.89 436.33,1266.24 437.24,1262.58 438.17,1258.9 439.1,1255.21 440.04,1251.52 441,1247.81 441.97,1244.09 442.95,1240.36 443.94,1236.63 444.95,1232.89 445.96,1229.14 446.99,1225.39 448.03,1221.63 449.08,1217.87 450.15,1214.11 451.22,1210.35 452.31,1206.59 453.41,1202.83 454.52,1199.06 455.65,1195.3 456.78,1191.54 457.93,1187.79 459.09,1184.04 460.26,1180.29 461.44,1176.55 462.64,1172.81 463.84,1169.08 465.06,1165.35 466.29,1161.63 467.54,1157.93 468.79,1154.22 470.06,1150.53 471.33,1146.85 472.62,1143.18 473.93,1139.52 475.24,1135.86 476.57,1132.23 477.9,1128.6 479.25,1124.98 480.61,1121.38 481.99,1117.79 483.37,1114.21 484.77,1110.65 486.18,1107.1 487.6,1103.57 489.03,1100.05 490.48,1096.55 491.93,1093.06 493.4,1089.59 494.88,1086.13 496.37,1082.69 497.88,1079.27 499.39,1075.87 500.92,1072.48 502.46,1069.1 504.01,1065.75 505.57,1062.41 507.15,1059.1 508.74,1055.79 510.34,1052.51 511.95,1049.25 513.57,1046 515.2,1042.78 516.85,1039.57 518.51,1036.38 520.18,1033.21 521.86,1030.06 523.56,1026.93 525.26,1023.82 526.98,1020.72 528.71,1017.65 530.45,1014.59 532.2,1011.56 533.97,1008.55 535.75,1005.55 537.54,1002.58 539.34,999.62 541.15,996.68 542.98,993.77 544.81,990.87 546.66,987.99 548.52,985.14 550.39,982.3 552.28,979.48 554.17,976.68 556.08,973.91 558,971.15 559.93,968.41 561.88,965.69 563.83,962.99 565.8,960.31 567.78,957.65 569.77,955.01 571.78,952.39 573.79,949.79 575.82,947.2 577.86,944.64 579.91,942.1 581.97,939.57 584.04,937.06 586.13,934.58 588.23,932.11 590.34,929.66 592.46,927.23 594.6,924.81 596.74,922.42 598.9,920.04 601.07,917.69 603.25,915.35 605.44,913.03 607.65,910.72 609.87,908.44 612.1,906.17 614.34,903.92 616.59,901.69 618.85,899.48 621.13,897.28 623.42,895.1 625.72,892.94 628.03,890.79 630.36,888.67 632.69,886.55 635.04,884.46 637.4,882.38 639.77,880.32 642.16,878.28 644.55,876.25 646.96,874.24 649.38,872.24 651.81,870.26 654.25,868.3 656.71,866.35 659.18,864.42 661.65,862.5 664.14,860.6 666.65,858.71 669.16,856.84 671.69,854.99 674.23,853.15 676.78,851.32 679.34,849.51 681.91,847.72 684.5,845.93 687.1,844.17 689.71,842.41 692.33,840.68 694.96,838.95 697.61,837.24 700.26,835.54 702.93,833.86 705.61,832.19 708.3,830.54 711.01,828.89 713.73,827.27 716.45,825.65 719.19,824.05 721.95,822.46 724.71,820.88 727.49,819.32 730.28,817.77 733.07,816.23 735.89,814.7 738.71,813.19 741.55,811.69 744.39,810.2 747.25,808.72 750.12,807.26 753.01,805.8 755.9,804.36 758.81,802.93 761.73,801.51 764.66,800.11 767.6,798.71 770.55,797.33 773.52,795.95 776.5,794.59 779.49,793.24 782.49,791.9 785.5,790.57 788.53,789.25 791.57,787.94 794.62,786.64 797.68,785.36 800.75,784.08 803.84,782.81 806.93,781.56 810.04,780.31 813.16,779.07 816.3,777.85 819.44,776.63 822.6,775.42 825.76,774.22 828.94,773.03 832.14,771.86 835.34,770.69 838.56,769.53 841.78,768.37 845.02,767.23 848.28,766.1 851.54,764.97 854.81,763.86 858.1,762.75 861.4,761.66 864.71,760.57 868.03,759.49 871.37,758.41 874.72,757.35 878.07,756.29 881.45,755.25 884.83,754.21 888.22,753.18 891.63,752.15 895.05,751.14 898.48,750.13 901.92,749.13 905.37,748.14 908.84,747.16 912.31,746.18 915.8,745.21 919.3,744.25 922.82,743.29 926.34,742.35 929.88,741.41 933.43,740.48 936.99,739.55 940.56,738.63 944.15,737.72 947.74,736.82 951.35,735.92 954.97,735.03 958.6,734.14 962.25,733.27 965.9,732.4 969.57,731.53 973.25,730.68 976.94,729.82 980.64,728.98 984.36,728.14 988.09,727.31 991.83,726.48 995.58,725.66 999.34,724.85 1003.11,724.04 1006.9,723.24 1010.7,722.45 1014.51,721.66 1018.33,720.87 1022.16,720.1 1026.01,719.32 1029.87,718.56 1033.74,717.8 1037.62,717.04 1041.51,716.29 1045.42,715.55 1049.34,714.81 1053.27,714.08 1057.21,713.35 1061.16,712.63 1065.12,711.91 1069.1,711.2 1073.09,710.49 1077.09,709.79 1081.1,709.09 1085.13,708.4 1089.16,707.71 1093.21,707.03 1097.27,706.35 1101.34,705.68 1105.43,705.01 1109.52,704.35 1113.63,703.69 1117.75,703.04 1121.88,702.39 1126.02,701.75 1130.18,701.11 1134.35,700.47 1138.53,699.84 1142.72,699.22 1146.92,698.6 1151.13,697.98 1155.36,697.37 1159.6,696.76 1163.85,696.15 1168.11,695.55 1172.38,694.96 1176.67,694.37 1180.97,693.78 1185.28,693.2 1189.6,692.62 1193.93,692.04 1198.28,691.47 1202.63,690.9 1207,690.34 1211.38,689.78 1215.78,689.22 1220.18,688.67 1224.6,688.12 1229.03,687.58 1233.47,687.04 1237.92,686.5 1242.38,685.97 1246.86,685.44 1251.35,684.91 1255.85,684.39 1260.36,683.87 1264.88,683.35 1269.42,682.84 1273.97,682.33 1278.53,681.83 1283.1,681.33 1287.68,680.83 1292.27,680.33 1296.88,679.84 1301.5,679.35 1306.13,678.87 1310.77,678.38 1315.43,677.91 1320.09,677.43 1324.77,676.96 1329.46,676.49 1334.16,676.02 1338.88,675.56 1343.6,675.1 1348.34,674.64 1353.09,674.19 1357.85,673.74 1362.63,673.29 1367.41,672.84 1372.21,672.4 1377.02,671.96 1381.84,671.52 1386.67,671.09 1391.52,670.66 1396.37,670.23 1401.24,669.8 1406.12,669.38 1411.01,668.96 1415.92,668.54 1420.83,668.13 1425.76,667.71 1430.7,667.31 1435.65,666.9 1440.62,666.49 1445.59,666.09 1450.58,665.69 1455.58,665.3 1460.59,664.9 1465.61,664.51 1470.65,664.12 1475.69,663.73 1480.75,663.35 1485.82,662.97 1490.9,662.59 1496,662.21 1501.1,661.83 1506.22,661.46 1511.35,661.09 1516.49,660.72 1521.65,660.36 1526.81,659.99 1531.99,659.63 1537.18,659.27 1542.38,658.92 1547.6,658.56 1552.82,658.21 1558.06,657.86 1563.31,657.51 1568.57,657.17 1573.84,656.82 1579.12,656.48 1584.42,656.14 1589.73,655.8 1595.05,655.47 1600.38,655.13 1605.72,654.8 1611.08,654.47 1616.45,654.14 1621.83,653.82 1627.22,653.49 1632.62,653.17 1638.04,652.85 1643.47,652.53 1648.9,652.22 1654.36,651.9 1659.82,651.59 1665.29,651.28 1670.78,650.97 1676.28,650.67 1681.79,650.36 1687.31,650.06 1692.84,649.76 1698.39,649.46 1703.95,649.16 1709.52,648.86 1715.1,648.57 1720.69,648.28 1726.3,647.98 1731.92,647.69 1737.55,647.41 1743.19,647.12 1748.84,646.84 1754.51,646.55 1760.18,646.27 1765.87,645.99 1771.57,645.72 1777.28,645.44 1783.01,645.16 1788.74,644.89 1794.49,644.62 1800.25,644.35 1806.02,644.08 1811.81,643.81 1817.6,643.55 1823.41,643.28 1829.23,643.02 1835.06,642.76 1840.91,642.5 1846.76,642.24 1852.63,641.99 1858.51,641.73 1864.4,641.48 1870.3,641.23 1876.22,640.98 1882.14,640.73 1888.08,640.48" fill="none" stroke="#0096e0" stroke-width="8.7" stroke-dasharray="43.27 23.64 43.41 23.77 43.71 23.98 44.21 24.33 45.04 24.91 46.46 25.95 49.05 27.89 54.08 31.79 56.89 28.93 50.35 26.42 47.05 25.12 45.29 24.41 44.29 23.99 43.7 23.74 43.33 23.58 43.09 23.47 42.93 23.4 42.82 23.35 42.74 23.32 42.69 23.29 42.65 23.27 42.62 23.26 42.6 23.25 42.58 23.24 42.56 23.23 42.55 23.23 42.54 23.22 25.94 1000"/>
<polyline points="402,1430 402.01,1429.96 402.02,1429.84 402.05,1429.64 402.1,1429.37 402.15,1429.01 402.21,1428.58 402.29,1428.06 402.38,1427.47 402.48,1426.8 402.59,1426.06 402.72,1425.24 402.86,1424.34 403,1423.36 403.17,1422.31 403.34,1421.18 403.52,1419.98 403.72,1418.71 403.93,1417.36 404.15,1415.94 404.38,1414.45 404.62,1412.88 404.88,1411.25 405.14,1409.55 405.42,1407.78 405.72,1405.94 406.02,1404.03 406.33,1402.06 406.66,1400.03 407,1397.93 407.35,1395.77 407.71,1393.55 408.09,1391.26 408.47,1388.92 408.87,1386.52 409.28,1384.06 409.7,1381.55 410.14,1378.98 410.58,1376.36 411.04,1373.68 411.51,1370.95 411.99,1368.18 412.49,1365.35 412.99,1362.48 413.51,1359.56 414.04,1356.6 414.58,1353.59 415.13,1350.54 415.7,1347.44 416.27,1344.31 416.86,1341.14 417.46,1337.93 418.07,1334.69 418.7,1331.4 419.33,1328.09 419.98,1324.74 420.64,1321.36 421.31,1317.95 422,1314.51 422.69,1311.05 423.4,1307.55 424.12,1304.04 424.85,1300.49 425.59,1296.93 426.35,1293.34 427.11,1289.73 427.89,1286.1 428.68,1282.46 429.49,1278.79 430.3,1275.11 431.13,1271.41 431.97,1267.7 432.82,1263.98 433.68,1260.24 434.55,1256.5 435.44,1252.74 436.33,1248.97 437.24,1245.2 438.17,1241.41 439.1,1237.63 440.04,1233.83 441,1230.03 441.97,1226.23 442.95,1222.43 443.94,1218.62 444.95,1214.81 445.96,1211 446.99,1207.19 448.03,1203.39 449.08,1199.58 450.15,1195.78 451.22,1191.98 452.31,1188.18 453.41,1184.39 454.52,1180.61 455.65,1176.83 456.78,1173.06 457.93,1169.29 459.09,1165.53 460.26,1161.78 461.44,1158.04 462.64,1154.31 463.84,1150.59 465.06,1146.88 466.29,1143.18 467.54,1139.49 468.79,1135.82 470.06,1132.15 471.33,1128.5 472.62,1124.86 473.93,1121.24 475.24,1117.63 476.57,1114.03 477.9,1110.45 479.25,1106.88 480.61,1103.33 481.99,1099.79 483.37,1096.27 484.77,1092.77 486.18,1089.28 487.6,1085.81 489.03,1082.36 490.48,1078.92 491.93,1075.5 493.4,1072.1 494.88,1068.71 496.37,1065.34 497.88,1062 499.39,1058.67 500.92,1055.35 502.46,1052.06 504.01,1048.79 505.57,1045.53 507.15,1042.29 508.74,1039.08 510.34,1035.88 511.95,1032.7 513.57,1029.54 515.2,1026.4 516.85,1023.28 518.51,1020.17 520.18,1017.09 521.86,1014.03 523.56,1010.99 525.26,1007.97 526.98,1004.96 528.71,1001.98 530.45,999.02 532.2,996.07 533.97,993.15 535.75,990.24 537.54,987.36 539.34,984.49 541.15,981.65 542.98,978.82 544.81,976.02 546.66,973.23 548.52,970.47 550.39,967.72 552.28,964.99 554.17,962.29 556.08,959.6 558,956.93 559.93,954.28 561.88,951.65 563.83,949.04 565.8,946.45 567.78,943.88 569.77,941.32 571.78,938.79 573.79,936.27 575.82,933.78 577.86,931.3 579.91,928.84 581.97,926.4 584.04,923.98 586.13,921.57 588.23,919.19 590.34,916.82 592.46,914.47 594.6,912.14 596.74,909.82 598.9,907.53 601.07,905.25 603.25,902.99 605.44,900.74 607.65,898.52 609.87,896.31 612.1,894.12 614.34,891.94 616.59,889.79 618.85,887.64 621.13,885.52 623.42,883.41 625.72,881.32 628.03,879.25 630.36,877.19 632.69,875.15 635.04,873.12 637.4,871.11 639.77,869.12 642.16,867.14 644.55,865.18 646.96,863.23 649.38,861.3 651.81,859.38 654.25,857.48 656.71,855.59 659.18,853.72 661.65,851.86 664.14,850.02 666.65,848.2 669.16,846.38 671.69,844.58 674.23,842.8 676.78,841.03 679.34,839.27 681.91,837.53 684.5,835.8 687.1,834.09 689.71,832.39 692.33,830.7 694.96,829.03 697.61,827.37 700.26,825.72 702.93,824.08 705.61,822.46 708.3,820.85 711.01,819.26 713.73,817.67 716.45,816.1 719.19,814.54 721.95,813 724.71,811.47 727.49,809.94 730.28,808.43 733.07,806.94 735.89,805.45 738.71,803.98 741.55,802.51 744.39,801.06 747.25,799.62 750.12,798.19 753.01,796.78 755.9,795.37 758.81,793.98 761.73,792.59 764.66,791.22 767.6,789.86 770.55,788.51 773.52,787.16 776.5,785.83 779.49,784.51 782.49,783.2 785.5,781.9 788.53,780.61 791.57,779.33 794.62,778.06 797.68,776.8 800.75,775.55 803.84,774.31 806.93,773.08 810.04,771.86 813.16,770.65 816.3,769.45 819.44,768.25 822.6,767.07 825.76,765.9 828.94,764.73 832.14,763.57 835.34,762.43 838.56,761.29 841.78,760.16 845.02,759.03 848.28,757.92 851.54,756.82 854.81,755.72 858.1,754.63 861.4,753.55 864.71,752.48 868.03,751.42 871.37,750.36 874.72,749.31 878.07,748.27 881.45,747.24 884.83,746.22 888.22,745.2 891.63,744.19 895.05,743.19 898.48,742.2 901.92,741.21 905.37,740.23 908.84,739.26 912.31,738.3 915.8,737.34 919.3,736.39 922.82,735.45 926.34,734.51 929.88,733.58 933.43,732.66 936.99,731.74 940.56,730.83 944.15,729.93 947.74,729.04 951.35,728.15 954.97,727.26 958.6,726.39 962.25,725.52 965.9,724.66 969.57,723.8 973.25,722.95 976.94,722.1 980.64,721.27 984.36,720.43 988.09,719.61 991.83,718.79 995.58,717.97 999.34,717.16 1003.11,716.36 1006.9,715.56 1010.7,714.77 1014.51,713.99 1018.33,713.21 1022.16,712.43 1026.01,711.66 1029.87,710.9 1033.74,710.14 1037.62,709.39 1041.51,708.64 1045.42,707.9 1049.34,707.16 1053.27,706.43 1057.21,705.7 1061.16,704.98 1065.12,704.26 1069.1,703.55 1073.09,702.85 1077.09,702.14 1081.1,701.45 1085.13,700.76 1089.16,700.07 1093.21,699.39 1097.27,698.71 1101.34,698.04 1105.43,697.37 1109.52,696.7 1113.63,696.04 1117.75,695.39 1121.88,694.74 1126.02,694.09 1130.18,693.45 1134.35,692.82 1138.53,692.18 1142.72,691.56 1146.92,690.93 1151.13,690.31 1155.36,689.7 1159.6,689.08 1163.85,688.48 1168.11,687.87 1172.38,687.27 1176.67,686.68 1180.97,686.09 1185.28,685.5 1189.6,684.92 1193.93,684.34 1198.28,683.76 1202.63,683.19 1207,682.62 1211.38,682.06 1215.78,681.5 1220.18,680.94 1224.6,680.39 1229.03,679.84 1233.47,679.29 1237.92,678.75 1242.38,678.21 1246.86,677.68 1251.35,677.14 1255.85,676.62 1260.36,676.09 1264.88,675.57 1269.42,675.05 1273.97,674.54 1278.53,674.02 1283.1,673.52 1287.68,673.01 1292.27,672.51 1296.88,672.01 1301.5,671.52 1306.13,671.02 1310.77,670.53 1315.43,670.05 1320.09,669.57 1324.77,669.09 1329.46,668.61 1334.16,668.14 1338.88,667.67 1343.6,667.2 1348.34,666.73 1353.09,666.27 1357.85,665.81 1362.63,665.36 1367.41,664.9 1372.21,664.45 1377.02,664.01 1381.84,663.56 1386.67,663.12 1391.52,662.68 1396.37,662.24 1401.24,661.81 1406.12,661.38 1411.01,660.95 1415.92,660.52 1420.83,660.1 1425.76,659.68 1430.7,659.26 1435.65,658.85 1440.62,658.43 1445.59,658.02 1450.58,657.61 1455.58,657.21 1460.59,656.81 1465.61,656.41 1470.65,656.01 1475.69,655.61 1480.75,655.22 1485.82,654.83 1490.9,654.44 1496,654.05 1501.1,653.67 1506.22,653.29 1511.35,652.91 1516.49,652.53 1521.65,652.15 1526.81,651.78 1531.99,651.41 1537.18,651.04 1542.38,650.68 1547.6,650.31 1552.82,649.95 1558.06,649.59 1563.31,649.23 1568.57,648.88 1573.84,648.52 1579.12,648.17 1584.42,647.82 1589.73,647.48 1595.05,647.13 1600.38,646.79 1605.72,646.45 1611.08,646.11 1616.45,645.77 1621.83,645.43 1627.22,645.1 1632.62,644.77 1638.04,644.44 1643.47,644.11 1648.9,643.79 1654.36,643.46 1659.82,643.14 1665.29,642.82 1670.78,642.5 1676.28,642.18 1681.79,641.87 1687.31,641.56 1692.84,641.24 1698.39,640.94 1703.95,640.63 1709.52,640.32 1715.1,640.02 1720.69,639.71 1726.3,639.41 1731.92,639.11 1737.55,638.82 1743.19,638.52 1748.84,638.23 1754.51,637.93 1760.18,637.64 1765.87,637.35 1771.57,637.06 1777.28,636.78 1783.01,636.49 1788.74,636.21 1794.49,635.93 1800.25,635.65 1806.02,635.37 1811.81,635.09 1817.6,634.82 1823.41,634.54 1829.23,634.27 1835.06,634 1840.91,633.73 1846.76,633.46 1852.63,633.19 1858.51,632.93 1864.4,632.66 1870.3,632.4 1876.22,632.14 1882.14,631.88 1888.08,631.62" fill="none" stroke="#ff6f6f" stroke-width="8.7" stroke-dasharray="43.03 24.2 43.23 24.33 43.54 24.55 44.02 24.9 44.82 25.48 46.22 26.53 48.78 28.52 53.8 32.54 57.02 29.76 50.35 27.16 47.04 25.82 45.28 25.09 44.29 24.67 43.7 24.41 43.33 24.24 43.1 24.14 42.94 24.06 42.83 24.01 42.75 23.97 42.7 23.95 42.65 23.93 42.62 23.91 42.6 23.9 42.58 23.89 42.57 23.88 42.56 23.88 42.55 23.87 20.48 1000"/>
<path d="M399.2 2192.3V3298.2H1937.7M383.49 3298.2H399.2M383.49 3105.8H399.2M383.49 2913.4H399.2M383.49 2721H399.2M383.49 2528.6H399.2M383.49 2336.2H399.2M399.2 3298.2V3313.91M706.9 3298.2V3313.91M1014.6 3298.2V3313.91M1322.3 3298.2V3313.91M1630 3298.2V3313.91M1937.7 3298.2V3313.91" stroke="#000" stroke-width="2.78" fill="none"/>
<g font-size="88.5" font-weight="bold"><text x="341.9" y="3328" text-anchor="end">0</text><text x="341.9" y="3135.6" text-anchor="end">20</text><text x="341.9" y="2943.2" text-anchor="end">40</text><text x="341.9" y="2750.8" text-anchor="end">60</text><text x="341.9" y="2558.4" text-anchor="end">80</text><text x="341.9" y="2366" text-anchor="end">100</text><text x="399.2" y="3438" text-anchor="middle">0</text><text x="706.9" y="3438" text-anchor="middle">10</text><text x="1014.6" y="3438" text-anchor="middle">20</text><text x="1322.3" y="3438" text-anchor="middle">30</text><text x="1630" y="3438" text-anchor="middle">40</text><text x="1937.7" y="3438" text-anchor="middle">50</text></g>
<text transform="translate(148.6,2745.7) rotate(-90)" text-anchor="middle" font-size="104.9" font-weight="bold">Cumulative TPT release (%)</text>
<text x="1169" y="3590.3" text-anchor="middle" font-size="104.4" font-weight="bold">Time (h)</text>
<text x="50" y="2014" font-size="146" font-weight="bold" letter-spacing="2">(c)</text>
<rect x="1555.9" y="2064.9" width="397.3" height="191.5" rx="27" fill="#dcebf7"/>
<text x="1577.5" y="2202.7" font-size="125.2" font-weight="bold">pH 6.0</text>
<circle cx="485.8" cy="2129.7" r="19.88" fill="#808080" stroke="#000" stroke-width="2.78"/>
<text transform="translate(618.1,2162.49) scale(0.878,1)" font-family="'Noto Serif CJK SC',serif" font-size="72.16">γ</text>
<text x="652.58" y="2161.2" font-size="78.03">CDP-(PEG) NP</text>
<polygon points="466.57,2221 505.03,2221 485.8,2254.3" fill="#008000" stroke="#000" stroke-width="2.78"/>
<text transform="translate(618.1,2264.89) scale(0.878,1)" font-family="'Noto Serif CJK SC',serif" font-size="72.16">γ</text>
<text x="652.58" y="2263.6" font-size="78.03">CDP-(PEG-Tf) NP</text>
<rect x="468.31" y="2317.01" width="34.99" height="34.99" fill="#0096e0" stroke="#000" stroke-width="2.78"/>
<text transform="translate(618.1,2367.29) scale(0.878,1)" font-family="'Noto Serif CJK SC',serif" font-size="72.16">γ</text>
<text x="652.58" y="2366" font-size="78.03">CDP-(DMA/PEG) NP</text>
<polygon points="485.8,2414.73 507.97,2436.9 485.8,2459.07 463.63,2436.9" fill="#ff6f6f" stroke="#000" stroke-width="2.78"/>
<text transform="translate(618.1,2469.69) scale(0.878,1)" font-family="'Noto Serif CJK SC',serif" font-size="72.16">γ</text>
<text x="652.58" y="2468.4" font-size="78.03">CDP-(DMA/PEG-Tf) NP</text>
<g stroke="#000" stroke-width="2.78" fill="none"><path d="M429.97 3219.32V3259.72M414.56 3219.32H445.38M414.56 3259.72H445.38"/><path d="M460.74 3154.86V3210.66M445.33 3154.86H476.15M445.33 3210.66H476.15"/><path d="M522.28 3077.42V3123.6M506.87 3077.42H537.69M506.87 3123.6H537.69"/><path d="M645.36 2999.98V3069.24M629.95 2999.98H660.77M629.95 3069.24H660.77"/><path d="M768.44 2930.72V3023.07M753.03 2930.72H783.85M753.03 3023.07H783.85"/><path d="M860.75 2936.49V2998.06M845.34 2936.49H876.16M845.34 2998.06H876.16"/><path d="M1137.68 2901.86V2959.58M1122.27 2901.86H1153.09M1122.27 2959.58H1153.09"/><path d="M1506.92 2878.77V2946.11M1491.51 2878.77H1522.33M1491.51 2946.11H1522.33"/><path d="M1876.16 2857.6V2898.01M1860.75 2857.6H1891.57M1860.75 2898.01H1891.57"/></g>
<circle cx="399.2" cy="3298.2" r="19.88" fill="#808080" stroke="#000" stroke-width="2.78"/>
<circle cx="429.97" cy="3239.52" r="19.88" fill="#808080" stroke="#000" stroke-width="2.78"/>
<circle cx="460.74" cy="3182.76" r="19.88" fill="#808080" stroke="#000" stroke-width="2.78"/>
<circle cx="522.28" cy="3100.51" r="19.88" fill="#808080" stroke="#000" stroke-width="2.78"/>
<circle cx="645.36" cy="3034.61" r="19.88" fill="#808080" stroke="#000" stroke-width="2.78"/>
<circle cx="768.44" cy="2976.89" r="19.88" fill="#808080" stroke="#000" stroke-width="2.78"/>
<circle cx="860.75" cy="2967.27" r="19.88" fill="#808080" stroke="#000" stroke-width="2.78"/>
<circle cx="1137.68" cy="2930.72" r="19.88" fill="#808080" stroke="#000" stroke-width="2.78"/>
<circle cx="1506.92" cy="2912.44" r="19.88" fill="#808080" stroke="#000" stroke-width="2.78"/>
<circle cx="1876.16" cy="2877.81" r="19.88" fill="#808080" stroke="#000" stroke-width="2.78"/>
<g stroke="#000" stroke-width="2.78" fill="none"><path d="M429.97 3232.78V3261.64M414.56 3232.78H445.38M414.56 3261.64H445.38"/><path d="M460.74 3126V3193.34M445.33 3126H476.15M445.33 3193.34H476.15"/><path d="M522.28 3069.72V3131.29M506.87 3069.72H537.69M506.87 3131.29H537.69"/><path d="M645.36 2975.93V3047.12M629.95 2975.93H660.77M629.95 3047.12H660.77"/><path d="M768.44 2924.94V3028.84M753.03 2924.94H783.85M753.03 3028.84H783.85"/><path d="M860.75 2945.63V2995.65M845.34 2945.63H876.16M845.34 2995.65H876.16"/><path d="M1137.68 2907.63V2976.89M1122.27 2907.63H1153.09M1122.27 2976.89H1153.09"/><path d="M1506.92 2884.54V2940.34M1491.51 2884.54H1522.33M1491.51 2940.34H1522.33"/><path d="M1876.16 2858.95V2916.67M1860.75 2858.95H1891.57M1860.75 2916.67H1891.57"/></g>
<polygon points="379.97,3287.1 418.43,3287.1 399.2,3320.4" fill="#008000" stroke="#000" stroke-width="2.78"/>
<polygon points="410.74,3236.11 449.2,3236.11 429.97,3269.41" fill="#008000" stroke="#000" stroke-width="2.78"/>
<polygon points="441.51,3148.57 479.97,3148.57 460.74,3181.87" fill="#008000" stroke="#000" stroke-width="2.78"/>
<polygon points="503.05,3089.41 541.51,3089.41 522.28,3122.71" fill="#008000" stroke="#000" stroke-width="2.78"/>
<polygon points="626.13,3000.42 664.59,3000.42 645.36,3033.72" fill="#008000" stroke="#000" stroke-width="2.78"/>
<polygon points="749.21,2965.79 787.67,2965.79 768.44,2999.09" fill="#008000" stroke="#000" stroke-width="2.78"/>
<polygon points="841.52,2959.54 879.98,2959.54 860.75,2992.84" fill="#008000" stroke="#000" stroke-width="2.78"/>
<polygon points="1118.45,2931.16 1156.91,2931.16 1137.68,2964.46" fill="#008000" stroke="#000" stroke-width="2.78"/>
<polygon points="1487.69,2901.34 1526.15,2901.34 1506.92,2934.64" fill="#008000" stroke="#000" stroke-width="2.78"/>
<polygon points="1856.93,2876.71 1895.39,2876.71 1876.16,2910.01" fill="#008000" stroke="#000" stroke-width="2.78"/>
<g stroke="#000" stroke-width="2.78" fill="none"><path d="M429.97 3145.53V3218.64M414.56 3145.53H445.38M414.56 3218.64H445.38"/><path d="M460.74 3010.56V3070.21M445.33 3010.56H476.15M445.33 3070.21H476.15"/><path d="M522.28 2838.36V2932.64M506.87 2838.36H537.69M506.87 2932.64H537.69"/><path d="M645.36 2663.28V2751.78M629.95 2663.28H660.77M629.95 2751.78H660.77"/><path d="M768.44 2591.13V2641.15M753.03 2591.13H783.85M753.03 2641.15H783.85"/><path d="M860.75 2535.72V2606.14M845.34 2535.72H876.16M845.34 2606.14H876.16"/><path d="M1137.68 2501.66V2549.76M1122.27 2501.66H1153.09M1122.27 2549.76H1153.09"/><path d="M1506.92 2481.46V2558.42M1491.51 2481.46H1522.33M1491.51 2558.42H1522.33"/><path d="M1876.16 2470.88V2511.28M1860.75 2470.88H1891.57M1860.75 2511.28H1891.57"/></g>
<rect x="381.71" y="3280.71" width="34.99" height="34.99" fill="#0096e0" stroke="#000" stroke-width="2.78"/>
<rect x="412.48" y="3164.59" width="34.99" height="34.99" fill="#0096e0" stroke="#000" stroke-width="2.78"/>
<rect x="443.25" y="3022.89" width="34.99" height="34.99" fill="#0096e0" stroke="#000" stroke-width="2.78"/>
<rect x="504.79" y="2868.01" width="34.99" height="34.99" fill="#0096e0" stroke="#000" stroke-width="2.78"/>
<rect x="627.87" y="2690.04" width="34.99" height="34.99" fill="#0096e0" stroke="#000" stroke-width="2.78"/>
<rect x="750.95" y="2598.65" width="34.99" height="34.99" fill="#0096e0" stroke="#000" stroke-width="2.78"/>
<rect x="843.26" y="2553.43" width="34.99" height="34.99" fill="#0096e0" stroke="#000" stroke-width="2.78"/>
<rect x="1120.19" y="2508.22" width="34.99" height="34.99" fill="#0096e0" stroke="#000" stroke-width="2.78"/>
<rect x="1489.43" y="2502.45" width="34.99" height="34.99" fill="#0096e0" stroke="#000" stroke-width="2.78"/>
<rect x="1858.67" y="2473.59" width="34.99" height="34.99" fill="#0096e0" stroke="#000" stroke-width="2.78"/>
<g stroke="#000" stroke-width="2.78" fill="none"><path d="M429.97 3151.49V3201.52M414.56 3151.49H445.38M414.56 3201.52H445.38"/><path d="M460.74 3000.94V3047.12M445.33 3000.94H476.15M445.33 3047.12H476.15"/><path d="M522.28 2840.77V2877.32M506.87 2840.77H537.69M506.87 2877.32H537.69"/><path d="M645.36 2665.2V2730.62M629.95 2665.2H660.77M629.95 2730.62H660.77"/><path d="M768.44 2560.35V2633.46M753.03 2560.35H783.85M753.03 2633.46H783.85"/><path d="M860.75 2543.99V2605.56M845.34 2543.99H876.16M845.34 2605.56H876.16"/><path d="M1137.68 2495.41V2568.52M1122.27 2495.41H1153.09M1122.27 2568.52H1153.09"/><path d="M1506.92 2462.22V2529.56M1491.51 2462.22H1522.33M1491.51 2529.56H1522.33"/><path d="M1876.16 2453.56V2532.45M1860.75 2453.56H1891.57M1860.75 2532.45H1891.57"/></g>
<polygon points="399.2,3276.03 421.37,3298.2 399.2,3320.37 377.03,3298.2" fill="#ff6f6f" stroke="#000" stroke-width="2.78"/>
<polygon points="429.97,3154.34 452.14,3176.51 429.97,3198.67 407.8,3176.51" fill="#ff6f6f" stroke="#000" stroke-width="2.78"/>
<polygon points="460.74,3001.86 482.91,3024.03 460.74,3046.2 438.57,3024.03" fill="#ff6f6f" stroke="#000" stroke-width="2.78"/>
<polygon points="522.28,2836.88 544.45,2859.05 522.28,2881.21 500.11,2859.05" fill="#ff6f6f" stroke="#000" stroke-width="2.78"/>
<polygon points="645.36,2675.75 667.53,2697.91 645.36,2720.08 623.19,2697.91" fill="#ff6f6f" stroke="#000" stroke-width="2.78"/>
<polygon points="768.44,2574.74 790.61,2596.9 768.44,2619.07 746.27,2596.9" fill="#ff6f6f" stroke="#000" stroke-width="2.78"/>
<polygon points="860.75,2552.61 882.92,2574.78 860.75,2596.94 838.58,2574.78" fill="#ff6f6f" stroke="#000" stroke-width="2.78"/>
<polygon points="1137.68,2509.8 1159.85,2531.97 1137.68,2554.13 1115.51,2531.97" fill="#ff6f6f" stroke="#000" stroke-width="2.78"/>
<polygon points="1506.92,2473.73 1529.09,2495.89 1506.92,2518.06 1484.75,2495.89" fill="#ff6f6f" stroke="#000" stroke-width="2.78"/>
<polygon points="1876.16,2470.84 1898.33,2493.01 1876.16,2515.17 1853.99,2493.01" fill="#ff6f6f" stroke="#000" stroke-width="2.78"/>
<polyline points="399.2,3298.2 399.21,3298.18 399.22,3298.13 399.25,3298.05 399.29,3297.93 399.35,3297.77 399.41,3297.59 399.49,3297.37 399.58,3297.11 399.68,3296.82 399.79,3296.5 399.91,3296.14 400.05,3295.76 400.2,3295.33 400.36,3294.88 400.53,3294.39 400.71,3293.87 400.91,3293.32 401.11,3292.74 401.33,3292.12 401.56,3291.48 401.81,3290.8 402.06,3290.09 402.33,3289.35 402.6,3288.58 402.89,3287.78 403.19,3286.96 403.51,3286.1 403.83,3285.21 404.17,3284.3 404.52,3283.35 404.88,3282.38 405.25,3281.39 405.63,3280.36 406.03,3279.31 406.44,3278.24 406.86,3277.13 407.29,3276.01 407.73,3274.86 408.19,3273.68 408.65,3272.48 409.13,3271.26 409.62,3270.01 410.12,3268.75 410.64,3267.46 411.16,3266.15 411.7,3264.81 412.25,3263.46 412.81,3262.09 413.38,3260.7 413.97,3259.29 414.57,3257.86 415.17,3256.41 415.8,3254.95 416.43,3253.47 417.07,3251.97 417.73,3250.46 418.39,3248.93 419.07,3247.39 419.77,3245.83 420.47,3244.26 421.18,3242.67 421.91,3241.08 422.65,3239.47 423.4,3237.84 424.16,3236.21 424.93,3234.56 425.72,3232.91 426.52,3231.24 427.33,3229.57 428.15,3227.88 428.98,3226.19 429.83,3224.49 430.68,3222.78 431.55,3221.06 432.43,3219.34 433.32,3217.61 434.23,3215.87 435.14,3214.13 436.07,3212.38 437.01,3210.63 437.96,3208.87 438.92,3207.11 439.9,3205.34 440.89,3203.57 441.88,3201.8 442.89,3200.03 443.92,3198.25 444.95,3196.47 446,3194.69 447.05,3192.91 448.12,3191.13 449.2,3189.35 450.3,3187.56 451.4,3185.78 452.52,3184 453.65,3182.22 454.79,3180.43 455.94,3178.65 457.1,3176.88 458.28,3175.1 459.47,3173.33 460.67,3171.55 461.88,3169.78 463.1,3168.02 464.33,3166.25 465.58,3164.49 466.84,3162.73 468.11,3160.98 469.39,3159.23 470.68,3157.49 471.99,3155.75 473.31,3154.01 474.64,3152.28 475.98,3150.55 477.33,3148.83 478.7,3147.11 480.07,3145.4 481.46,3143.7 482.86,3142 484.27,3140.3 485.7,3138.62 487.13,3136.94 488.58,3135.26 490.04,3133.59 491.51,3131.93 492.99,3130.27 494.49,3128.63 495.99,3126.98 497.51,3125.35 499.04,3123.72 500.58,3122.1 502.14,3120.49 503.7,3118.89 505.28,3117.29 506.87,3115.7 508.47,3114.12 510.08,3112.54 511.71,3110.97 513.35,3109.42 514.99,3107.86 516.65,3106.32 518.33,3104.79 520.01,3103.26 521.7,3101.74 523.41,3100.23 525.13,3098.73 526.86,3097.23 528.61,3095.75 530.36,3094.27 532.13,3092.8 533.9,3091.34 535.69,3089.89 537.5,3088.45 539.31,3087.01 541.14,3085.58 542.97,3084.17 544.82,3082.76 546.68,3081.35 548.56,3079.96 550.44,3078.58 552.34,3077.2 554.25,3075.84 556.17,3074.48 558.1,3073.13 560.04,3071.79 562,3070.45 563.96,3069.13 565.94,3067.81 567.93,3066.51 569.94,3065.21 571.95,3063.92 573.98,3062.63 576.02,3061.36 578.07,3060.09 580.13,3058.84 582.2,3057.59 584.29,3056.35 586.38,3055.12 588.49,3053.89 590.61,3052.68 592.75,3051.47 594.89,3050.27 597.05,3049.08 599.22,3047.9 601.4,3046.73 603.59,3045.56 605.79,3044.4 608.01,3043.25 610.23,3042.11 612.47,3040.97 614.72,3039.85 616.99,3038.73 619.26,3037.62 621.55,3036.52 623.85,3035.42 626.16,3034.33 628.48,3033.25 630.81,3032.18 633.16,3031.12 635.51,3030.06 637.88,3029.01 640.26,3027.97 642.66,3026.93 645.06,3025.91 647.48,3024.89 649.91,3023.88 652.35,3022.87 654.8,3021.87 657.26,3020.88 659.74,3019.9 662.22,3018.92 664.72,3017.95 667.23,3016.99 669.76,3016.03 672.29,3015.09 674.84,3014.14 677.39,3013.21 679.96,3012.28 682.55,3011.36 685.14,3010.45 687.74,3009.54 690.36,3008.64 692.99,3007.74 695.63,3006.85 698.28,3005.97 700.95,3005.1 703.63,3004.23 706.31,3003.37 709.01,3002.51 711.72,3001.66 714.45,3000.82 717.18,2999.98 719.93,2999.15 722.69,2998.32 725.46,2997.5 728.24,2996.69 731.04,2995.88 733.84,2995.08 736.66,2994.28 739.49,2993.49 742.33,2992.71 745.19,2991.93 748.05,2991.16 750.93,2990.39 753.82,2989.63 756.72,2988.87 759.63,2988.12 762.56,2987.38 765.49,2986.64 768.44,2985.91 771.4,2985.18 774.37,2984.45 777.35,2983.74 780.35,2983.02 783.36,2982.31 786.38,2981.61 789.41,2980.91 792.45,2980.22 795.5,2979.54 798.57,2978.85 801.65,2978.18 804.74,2977.5 807.84,2976.84 810.95,2976.17 814.08,2975.51 817.22,2974.86 820.36,2974.21 823.52,2973.57 826.7,2972.93 829.88,2972.29 833.08,2971.66 836.29,2971.04 839.51,2970.42 842.74,2969.8 845.98,2969.19 849.24,2968.58 852.5,2967.98 855.78,2967.38 859.07,2966.78 862.37,2966.19 865.69,2965.61 869.02,2965.03 872.35,2964.45 875.7,2963.87 879.06,2963.3 882.44,2962.74 885.82,2962.18 889.22,2961.62 892.63,2961.07 896.05,2960.52 899.48,2959.97 902.93,2959.43 906.38,2958.89 909.85,2958.36 913.33,2957.82 916.82,2957.3 920.32,2956.77 923.84,2956.26 927.37,2955.74 930.91,2955.23 934.46,2954.72 938.02,2954.21 941.59,2953.71 945.18,2953.21 948.78,2952.72 952.39,2952.23 956.01,2951.74 959.64,2951.26 963.29,2950.77 966.94,2950.3 970.61,2949.82 974.29,2949.35 977.99,2948.88 981.69,2948.42 985.41,2947.96 989.13,2947.5 992.87,2947.04 996.62,2946.59 1000.39,2946.14 1004.16,2945.7 1007.95,2945.25 1011.75,2944.81 1015.56,2944.38 1019.38,2943.94 1023.22,2943.51 1027.06,2943.08 1030.92,2942.66 1034.79,2942.24 1038.67,2941.82 1042.56,2941.4 1046.47,2940.99 1050.39,2940.58 1054.31,2940.17 1058.25,2939.76 1062.21,2939.36 1066.17,2938.96 1070.15,2938.56 1074.14,2938.17 1078.13,2937.78 1082.15,2937.39 1086.17,2937 1090.2,2936.62 1094.25,2936.23 1098.31,2935.86 1102.38,2935.48 1106.46,2935.1 1110.56,2934.73 1114.66,2934.36 1118.78,2934 1122.91,2933.63 1127.05,2933.27 1131.21,2932.91 1135.37,2932.55 1139.55,2932.2 1143.74,2931.85 1147.94,2931.5 1152.15,2931.15 1156.37,2930.8 1160.61,2930.46 1164.86,2930.12 1169.12,2929.78 1173.39,2929.44 1177.67,2929.11 1181.97,2928.77 1186.27,2928.44 1190.59,2928.11 1194.92,2927.79 1199.26,2927.46 1203.62,2927.14 1207.98,2926.82 1212.36,2926.5 1216.75,2926.19 1221.15,2925.87 1225.57,2925.56 1229.99,2925.25 1234.43,2924.94 1238.88,2924.64 1243.34,2924.33 1247.81,2924.03 1252.29,2923.73 1256.79,2923.43 1261.3,2923.13 1265.82,2922.84 1270.35,2922.55 1274.89,2922.26 1279.44,2921.97 1284.01,2921.68 1288.59,2921.39 1293.18,2921.11 1297.78,2920.83 1302.4,2920.55 1307.02,2920.27 1311.66,2919.99 1316.31,2919.72 1320.97,2919.44 1325.64,2919.17 1330.33,2918.9 1335.03,2918.63 1339.73,2918.36 1344.45,2918.1 1349.19,2917.84 1353.93,2917.57 1358.69,2917.31 1363.45,2917.05 1368.23,2916.8 1373.02,2916.54 1377.83,2916.29 1382.64,2916.03 1387.47,2915.78 1392.31,2915.53 1397.16,2915.28 1402.02,2915.04 1406.89,2914.79 1411.78,2914.55 1416.68,2914.31 1421.59,2914.07 1426.51,2913.83 1431.44,2913.59 1436.39,2913.35 1441.34,2913.12 1446.31,2912.88 1451.29,2912.65 1456.28,2912.42 1461.29,2912.19 1466.3,2911.96 1471.33,2911.73 1476.37,2911.51 1481.42,2911.28 1486.48,2911.06 1491.56,2910.84 1496.65,2910.62 1501.74,2910.4 1506.86,2910.18 1511.98,2909.96 1517.11,2909.75 1522.26,2909.53 1527.41,2909.32 1532.58,2909.11 1537.76,2908.9 1542.96,2908.69 1548.16,2908.48 1553.38,2908.28 1558.61,2908.07 1563.85,2907.86 1569.1,2907.66 1574.36,2907.46 1579.64,2907.26 1584.93,2907.06 1590.23,2906.86 1595.54,2906.66 1600.86,2906.47 1606.2,2906.27 1611.54,2906.08 1616.9,2905.88 1622.27,2905.69 1627.65,2905.5 1633.05,2905.31 1638.45,2905.12 1643.87,2904.93 1649.3,2904.75 1654.74,2904.56 1660.19,2904.37 1665.66,2904.19 1671.13,2904.01 1676.62,2903.83 1682.12,2903.65 1687.63,2903.47 1693.16,2903.29 1698.69,2903.11 1704.24,2902.93 1709.8,2902.76 1715.37,2902.58 1720.96,2902.41 1726.55,2902.23 1732.16,2902.06 1737.77,2901.89 1743.4,2901.72 1749.05,2901.55 1754.7,2901.38 1760.37,2901.22 1766.04,2901.05 1771.73,2900.88 1777.43,2900.72 1783.15,2900.56 1788.87,2900.39 1794.61,2900.23 1800.36,2900.07 1806.12,2899.91 1811.89,2899.75 1817.67,2899.59 1823.47,2899.43 1829.28,2899.28 1835.09,2899.12 1840.93,2898.96 1846.77,2898.81 1852.62,2898.66 1858.49,2898.5 1864.37,2898.35 1870.26,2898.2 1876.16,2898.05" fill="none" stroke="#008000" stroke-width="8.65" stroke-dasharray="45.19 24.77 47.89 26.92 54.14 31.3 53.76 26.79 47.73 24.72 45.12 23.77 43.87 23.29 43.22 23.04 42.86 22.89 42.64 22.8 42.51 22.74 42.42 22.7 42.36 22.68 42.32 22.66 42.29 22.64 42.27 22.63 42.26 22.63 42.25 22.62 42.24 22.62 42.23 22.61 42.23 22.61 42.22 22.61 42.22 22.61 42.22 1000"/>
<polyline points="399.2,3298.2 399.21,3298.19 399.22,3298.14 399.25,3298.07 399.29,3297.96 399.35,3297.83 399.41,3297.67 399.49,3297.48 399.58,3297.26 399.68,3297.01 399.79,3296.73 399.91,3296.42 400.05,3296.08 400.2,3295.72 400.36,3295.32 400.53,3294.9 400.71,3294.45 400.91,3293.97 401.11,3293.47 401.33,3292.93 401.56,3292.37 401.81,3291.78 402.06,3291.16 402.33,3290.52 402.6,3289.85 402.89,3289.15 403.19,3288.43 403.51,3287.68 403.83,3286.91 404.17,3286.11 404.52,3285.28 404.88,3284.43 405.25,3283.56 405.63,3282.66 406.03,3281.74 406.44,3280.8 406.86,3279.83 407.29,3278.84 407.73,3277.82 408.19,3276.78 408.65,3275.73 409.13,3274.65 409.62,3273.55 410.12,3272.42 410.64,3271.28 411.16,3270.12 411.7,3268.94 412.25,3267.74 412.81,3266.52 413.38,3265.28 413.97,3264.02 414.57,3262.74 415.17,3261.45 415.8,3260.14 416.43,3258.82 417.07,3257.47 417.73,3256.12 418.39,3254.74 419.07,3253.35 419.77,3251.95 420.47,3250.53 421.18,3249.1 421.91,3247.65 422.65,3246.19 423.4,3244.72 424.16,3243.24 424.93,3241.74 425.72,3240.23 426.52,3238.72 427.33,3237.19 428.15,3235.65 428.98,3234.09 429.83,3232.53 430.68,3230.96 431.55,3229.39 432.43,3227.8 433.32,3226.2 434.23,3224.6 435.14,3222.99 436.07,3221.37 437.01,3219.74 437.96,3218.11 438.92,3216.47 439.9,3214.83 440.89,3213.18 441.88,3211.53 442.89,3209.87 443.92,3208.2 444.95,3206.53 446,3204.86 447.05,3203.19 448.12,3201.51 449.2,3199.83 450.3,3198.14 451.4,3196.45 452.52,3194.76 453.65,3193.07 454.79,3191.38 455.94,3189.68 457.1,3187.99 458.28,3186.29 459.47,3184.6 460.67,3182.9 461.88,3181.2 463.1,3179.5 464.33,3177.81 465.58,3176.11 466.84,3174.42 468.11,3172.72 469.39,3171.03 470.68,3169.34 471.99,3167.65 473.31,3165.96 474.64,3164.28 475.98,3162.6 477.33,3160.92 478.7,3159.24 480.07,3157.57 481.46,3155.89 482.86,3154.23 484.27,3152.56 485.7,3150.9 487.13,3149.24 488.58,3147.59 490.04,3145.94 491.51,3144.29 492.99,3142.65 494.49,3141.02 495.99,3139.39 497.51,3137.76 499.04,3136.14 500.58,3134.52 502.14,3132.91 503.7,3131.3 505.28,3129.7 506.87,3128.11 508.47,3126.51 510.08,3124.93 511.71,3123.35 513.35,3121.78 514.99,3120.21 516.65,3118.65 518.33,3117.1 520.01,3115.55 521.7,3114 523.41,3112.47 525.13,3110.94 526.86,3109.42 528.61,3107.9 530.36,3106.39 532.13,3104.89 533.9,3103.39 535.69,3101.9 537.5,3100.42 539.31,3098.94 541.14,3097.47 542.97,3096.01 544.82,3094.55 546.68,3093.1 548.56,3091.66 550.44,3090.23 552.34,3088.8 554.25,3087.38 556.17,3085.97 558.1,3084.56 560.04,3083.17 562,3081.78 563.96,3080.39 565.94,3079.02 567.93,3077.65 569.94,3076.29 571.95,3074.93 573.98,3073.58 576.02,3072.25 578.07,3070.91 580.13,3069.59 582.2,3068.27 584.29,3066.96 586.38,3065.66 588.49,3064.36 590.61,3063.08 592.75,3061.79 594.89,3060.52 597.05,3059.26 599.22,3058 601.4,3056.75 603.59,3055.5 605.79,3054.27 608.01,3053.04 610.23,3051.82 612.47,3050.6 614.72,3049.39 616.99,3048.19 619.26,3047 621.55,3045.82 623.85,3044.64 626.16,3043.47 628.48,3042.3 630.81,3041.15 633.16,3040 635.51,3038.85 637.88,3037.72 640.26,3036.59 642.66,3035.47 645.06,3034.35 647.48,3033.25 649.91,3032.15 652.35,3031.05 654.8,3029.97 657.26,3028.89 659.74,3027.81 662.22,3026.75 664.72,3025.69 667.23,3024.64 669.76,3023.59 672.29,3022.55 674.84,3021.52 677.39,3020.49 679.96,3019.47 682.55,3018.46 685.14,3017.46 687.74,3016.46 690.36,3015.46 692.99,3014.48 695.63,3013.5 698.28,3012.52 700.95,3011.55 703.63,3010.59 706.31,3009.64 709.01,3008.69 711.72,3007.75 714.45,3006.81 717.18,3005.88 719.93,3004.96 722.69,3004.04 725.46,3003.13 728.24,3002.22 731.04,3001.32 733.84,3000.43 736.66,2999.54 739.49,2998.66 742.33,2997.78 745.19,2996.91 748.05,2996.05 750.93,2995.19 753.82,2994.33 756.72,2993.49 759.63,2992.64 762.56,2991.81 765.49,2990.98 768.44,2990.15 771.4,2989.33 774.37,2988.52 777.35,2987.71 780.35,2986.9 783.36,2986.1 786.38,2985.31 789.41,2984.52 792.45,2983.74 795.5,2982.96 798.57,2982.19 801.65,2981.42 804.74,2980.66 807.84,2979.91 810.95,2979.15 814.08,2978.41 817.22,2977.66 820.36,2976.93 823.52,2976.2 826.7,2975.47 829.88,2974.75 833.08,2974.03 836.29,2973.31 839.51,2972.61 842.74,2971.9 845.98,2971.2 849.24,2970.51 852.5,2969.82 855.78,2969.14 859.07,2968.45 862.37,2967.78 865.69,2967.11 869.02,2966.44 872.35,2965.78 875.7,2965.12 879.06,2964.47 882.44,2963.82 885.82,2963.17 889.22,2962.53 892.63,2961.89 896.05,2961.26 899.48,2960.63 902.93,2960.01 906.38,2959.39 909.85,2958.77 913.33,2958.16 916.82,2957.55 920.32,2956.95 923.84,2956.35 927.37,2955.75 930.91,2955.16 934.46,2954.57 938.02,2953.98 941.59,2953.4 945.18,2952.83 948.78,2952.25 952.39,2951.68 956.01,2951.12 959.64,2950.55 963.29,2950 966.94,2949.44 970.61,2948.89 974.29,2948.34 977.99,2947.8 981.69,2947.26 985.41,2946.72 989.13,2946.19 992.87,2945.66 996.62,2945.13 1000.39,2944.61 1004.16,2944.09 1007.95,2943.57 1011.75,2943.06 1015.56,2942.55 1019.38,2942.04 1023.22,2941.54 1027.06,2941.03 1030.92,2940.54 1034.79,2940.04 1038.67,2939.55 1042.56,2939.06 1046.47,2938.58 1050.39,2938.1 1054.31,2937.62 1058.25,2937.14 1062.21,2936.67 1066.17,2936.2 1070.15,2935.74 1074.14,2935.27 1078.13,2934.81 1082.15,2934.35 1086.17,2933.9 1090.2,2933.45 1094.25,2933 1098.31,2932.55 1102.38,2932.11 1106.46,2931.67 1110.56,2931.23 1114.66,2930.79 1118.78,2930.36 1122.91,2929.93 1127.05,2929.5 1131.21,2929.08 1135.37,2928.66 1139.55,2928.24 1143.74,2927.82 1147.94,2927.41 1152.15,2927 1156.37,2926.59 1160.61,2926.18 1164.86,2925.78 1169.12,2925.38 1173.39,2924.98 1177.67,2924.58 1181.97,2924.19 1186.27,2923.79 1190.59,2923.4 1194.92,2923.02 1199.26,2922.63 1203.62,2922.25 1207.98,2921.87 1212.36,2921.49 1216.75,2921.12 1221.15,2920.75 1225.57,2920.37 1229.99,2920.01 1234.43,2919.64 1238.88,2919.28 1243.34,2918.91 1247.81,2918.55 1252.29,2918.2 1256.79,2917.84 1261.3,2917.49 1265.82,2917.14 1270.35,2916.79 1274.89,2916.44 1279.44,2916.1 1284.01,2915.75 1288.59,2915.41 1293.18,2915.07 1297.78,2914.74 1302.4,2914.4 1307.02,2914.07 1311.66,2913.74 1316.31,2913.41 1320.97,2913.08 1325.64,2912.76 1330.33,2912.43 1335.03,2912.11 1339.73,2911.79 1344.45,2911.48 1349.19,2911.16 1353.93,2910.85 1358.69,2910.53 1363.45,2910.22 1368.23,2909.92 1373.02,2909.61 1377.83,2909.3 1382.64,2909 1387.47,2908.7 1392.31,2908.4 1397.16,2908.1 1402.02,2907.81 1406.89,2907.51 1411.78,2907.22 1416.68,2906.93 1421.59,2906.64 1426.51,2906.35 1431.44,2906.06 1436.39,2905.78 1441.34,2905.5 1446.31,2905.22 1451.29,2904.94 1456.28,2904.66 1461.29,2904.38 1466.3,2904.11 1471.33,2903.83 1476.37,2903.56 1481.42,2903.29 1486.48,2903.02 1491.56,2902.76 1496.65,2902.49 1501.74,2902.23 1506.86,2901.96 1511.98,2901.7 1517.11,2901.44 1522.26,2901.18 1527.41,2900.93 1532.58,2900.67 1537.76,2900.42 1542.96,2900.17 1548.16,2899.91 1553.38,2899.66 1558.61,2899.42 1563.85,2899.17 1569.1,2898.92 1574.36,2898.68 1579.64,2898.44 1584.93,2898.19 1590.23,2897.95 1595.54,2897.71 1600.86,2897.48 1606.2,2897.24 1611.54,2897 1616.9,2896.77 1622.27,2896.54 1627.65,2896.31 1633.05,2896.08 1638.45,2895.85 1643.87,2895.62 1649.3,2895.39 1654.74,2895.17 1660.19,2894.94 1665.66,2894.72 1671.13,2894.5 1676.62,2894.28 1682.12,2894.06 1687.63,2893.84 1693.16,2893.63 1698.69,2893.41 1704.24,2893.2 1709.8,2892.98 1715.37,2892.77 1720.96,2892.56 1726.55,2892.35 1732.16,2892.14 1737.77,2891.93 1743.4,2891.72 1749.05,2891.52 1754.7,2891.31 1760.37,2891.11 1766.04,2890.91 1771.73,2890.71 1777.43,2890.51 1783.15,2890.31 1788.87,2890.11 1794.61,2889.91 1800.36,2889.72 1806.12,2889.52 1811.89,2889.33 1817.67,2889.13 1823.47,2888.94 1829.28,2888.75 1835.09,2888.56 1840.93,2888.37 1846.77,2888.18 1852.62,2887.99 1858.49,2887.81 1864.37,2887.62 1870.26,2887.44 1876.16,2887.25" fill="none" stroke="#828282" stroke-width="8.65" stroke-dasharray="46.12 25.34 49.35 27.83 56.35 30.61 52.83 26.59 47.76 24.75 45.34 23.84 44.09 23.35 43.4 23.07 43 22.9 42.75 22.8 42.59 22.73 42.49 22.68 42.41 22.65 42.36 22.63 42.33 22.61 42.3 22.6 42.28 22.59 42.26 22.58 42.25 22.58 42.24 22.57 42.24 22.57 42.23 22.56 42.23 22.56 42.22 1000"/>
<polyline points="399.2,3298.2 399.21,3298.18 399.22,3298.13 399.25,3298.03 399.29,3297.88 399.35,3297.69 399.41,3297.44 399.49,3297.13 399.58,3296.77 399.68,3296.36 399.79,3295.88 399.91,3295.35 400.05,3294.76 400.2,3294.11 400.36,3293.4 400.53,3292.63 400.71,3291.8 400.91,3290.9 401.11,3289.95 401.33,3288.93 401.56,3287.85 401.81,3286.71 402.06,3285.5 402.33,3284.24 402.6,3282.91 402.89,3281.52 403.19,3280.06 403.51,3278.55 403.83,3276.97 404.17,3275.33 404.52,3273.63 404.88,3271.87 405.25,3270.05 405.63,3268.17 406.03,3266.23 406.44,3264.23 406.86,3262.17 407.29,3260.06 407.73,3257.89 408.19,3255.66 408.65,3253.37 409.13,3251.03 409.62,3248.64 410.12,3246.19 410.64,3243.69 411.16,3241.14 411.7,3238.53 412.25,3235.88 412.81,3233.17 413.38,3230.42 413.97,3227.62 414.57,3224.77 415.17,3221.88 415.8,3218.94 416.43,3215.96 417.07,3212.94 417.73,3209.87 418.39,3206.76 419.07,3203.61 419.77,3200.43 420.47,3197.2 421.18,3193.94 421.91,3190.65 422.65,3187.32 423.4,3183.95 424.16,3180.55 424.93,3177.12 425.72,3173.67 426.52,3170.18 427.33,3166.66 428.15,3163.12 428.98,3159.55 429.83,3155.95 430.68,3152.33 431.55,3148.69 432.43,3145.03 433.32,3141.34 434.23,3137.64 435.14,3133.91 436.07,3130.17 437.01,3126.41 437.96,3122.64 438.92,3118.85 439.9,3115.05 440.89,3111.23 441.88,3107.41 442.89,3103.57 443.92,3099.72 444.95,3095.86 446,3092 447.05,3088.12 448.12,3084.25 449.2,3080.36 450.3,3076.47 451.4,3072.58 452.52,3068.68 453.65,3064.78 454.79,3060.89 455.94,3056.98 457.1,3053.08 458.28,3049.19 459.47,3045.29 460.67,3041.39 461.88,3037.5 463.1,3033.61 464.33,3029.73 465.58,3025.85 466.84,3021.97 468.11,3018.11 469.39,3014.25 470.68,3010.39 471.99,3006.55 473.31,3002.71 474.64,2998.89 475.98,2995.07 477.33,2991.26 478.7,2987.47 480.07,2983.68 481.46,2979.91 482.86,2976.15 484.27,2972.4 485.7,2968.66 487.13,2964.94 488.58,2961.23 490.04,2957.53 491.51,2953.85 492.99,2950.19 494.49,2946.54 495.99,2942.9 497.51,2939.29 499.04,2935.68 500.58,2932.1 502.14,2928.53 503.7,2924.98 505.28,2921.44 506.87,2917.92 508.47,2914.42 510.08,2910.94 511.71,2907.48 513.35,2904.03 514.99,2900.61 516.65,2897.2 518.33,2893.81 520.01,2890.44 521.7,2887.09 523.41,2883.75 525.13,2880.44 526.86,2877.15 528.61,2873.87 530.36,2870.62 532.13,2867.39 533.9,2864.17 535.69,2860.98 537.5,2857.81 539.31,2854.65 541.14,2851.52 542.97,2848.41 544.82,2845.31 546.68,2842.24 548.56,2839.19 550.44,2836.16 552.34,2833.15 554.25,2830.15 556.17,2827.18 558.1,2824.23 560.04,2821.3 562,2818.39 563.96,2815.51 565.94,2812.64 567.93,2809.79 569.94,2806.96 571.95,2804.15 573.98,2801.37 576.02,2798.6 578.07,2795.85 580.13,2793.12 582.2,2790.42 584.29,2787.73 586.38,2785.06 588.49,2782.41 590.61,2779.79 592.75,2777.18 594.89,2774.59 597.05,2772.02 599.22,2769.47 601.4,2766.94 603.59,2764.43 605.79,2761.94 608.01,2759.47 610.23,2757.02 612.47,2754.58 614.72,2752.17 616.99,2749.77 619.26,2747.39 621.55,2745.03 623.85,2742.69 626.16,2740.37 628.48,2738.06 630.81,2735.78 633.16,2733.51 635.51,2731.26 637.88,2729.03 640.26,2726.81 642.66,2724.62 645.06,2722.44 647.48,2720.27 649.91,2718.13 652.35,2716 654.8,2713.89 657.26,2711.8 659.74,2709.72 662.22,2707.66 664.72,2705.62 667.23,2703.59 669.76,2701.58 672.29,2699.58 674.84,2697.61 677.39,2695.64 679.96,2693.7 682.55,2691.77 685.14,2689.85 687.74,2687.95 690.36,2686.07 692.99,2684.2 695.63,2682.35 698.28,2680.51 700.95,2678.68 703.63,2676.88 706.31,2675.08 709.01,2673.3 711.72,2671.54 714.45,2669.79 717.18,2668.05 719.93,2666.33 722.69,2664.62 725.46,2662.93 728.24,2661.25 731.04,2659.58 733.84,2657.93 736.66,2656.29 739.49,2654.66 742.33,2653.05 745.19,2651.45 748.05,2649.86 750.93,2648.29 753.82,2646.73 756.72,2645.18 759.63,2643.65 762.56,2642.12 765.49,2640.61 768.44,2639.11 771.4,2637.63 774.37,2636.15 777.35,2634.69 780.35,2633.24 783.36,2631.8 786.38,2630.38 789.41,2628.96 792.45,2627.56 795.5,2626.16 798.57,2624.78 801.65,2623.41 804.74,2622.05 807.84,2620.71 810.95,2619.37 814.08,2618.04 817.22,2616.73 820.36,2615.42 823.52,2614.13 826.7,2612.84 829.88,2611.57 833.08,2610.31 836.29,2609.05 839.51,2607.81 842.74,2606.58 845.98,2605.35 849.24,2604.14 852.5,2602.93 855.78,2601.74 859.07,2600.56 862.37,2599.38 865.69,2598.21 869.02,2597.06 872.35,2595.91 875.7,2594.77 879.06,2593.64 882.44,2592.52 885.82,2591.41 889.22,2590.3 892.63,2589.21 896.05,2588.12 899.48,2587.05 902.93,2585.98 906.38,2584.92 909.85,2583.86 913.33,2582.82 916.82,2581.78 920.32,2580.76 923.84,2579.74 927.37,2578.73 930.91,2577.72 934.46,2576.73 938.02,2575.74 941.59,2574.76 945.18,2573.78 948.78,2572.82 952.39,2571.86 956.01,2570.91 959.64,2569.97 963.29,2569.03 966.94,2568.1 970.61,2567.18 974.29,2566.26 977.99,2565.36 981.69,2564.46 985.41,2563.56 989.13,2562.67 992.87,2561.79 996.62,2560.92 1000.39,2560.05 1004.16,2559.19 1007.95,2558.34 1011.75,2557.49 1015.56,2556.65 1019.38,2555.81 1023.22,2554.99 1027.06,2554.16 1030.92,2553.35 1034.79,2552.54 1038.67,2551.73 1042.56,2550.94 1046.47,2550.14 1050.39,2549.36 1054.31,2548.58 1058.25,2547.8 1062.21,2547.03 1066.17,2546.27 1070.15,2545.51 1074.14,2544.76 1078.13,2544.02 1082.15,2543.27 1086.17,2542.54 1090.2,2541.81 1094.25,2541.08 1098.31,2540.37 1102.38,2539.65 1106.46,2538.94 1110.56,2538.24 1114.66,2537.54 1118.78,2536.85 1122.91,2536.16 1127.05,2535.47 1131.21,2534.8 1135.37,2534.12 1139.55,2533.45 1143.74,2532.79 1147.94,2532.13 1152.15,2531.48 1156.37,2530.83 1160.61,2530.18 1164.86,2529.54 1169.12,2528.9 1173.39,2528.27 1177.67,2527.65 1181.97,2527.02 1186.27,2526.41 1190.59,2525.79 1194.92,2525.18 1199.26,2524.58 1203.62,2523.98 1207.98,2523.38 1212.36,2522.79 1216.75,2522.2 1221.15,2521.61 1225.57,2521.03 1229.99,2520.46 1234.43,2519.89 1238.88,2519.32 1243.34,2518.75 1247.81,2518.19 1252.29,2517.64 1256.79,2517.09 1261.3,2516.54 1265.82,2515.99 1270.35,2515.45 1274.89,2514.91 1279.44,2514.38 1284.01,2513.85 1288.59,2513.32 1293.18,2512.8 1297.78,2512.28 1302.4,2511.76 1307.02,2511.25 1311.66,2510.74 1316.31,2510.24 1320.97,2509.74 1325.64,2509.24 1330.33,2508.74 1335.03,2508.25 1339.73,2507.76 1344.45,2507.28 1349.19,2506.79 1353.93,2506.31 1358.69,2505.84 1363.45,2505.37 1368.23,2504.9 1373.02,2504.43 1377.83,2503.97 1382.64,2503.51 1387.47,2503.05 1392.31,2502.6 1397.16,2502.14 1402.02,2501.7 1406.89,2501.25 1411.78,2500.81 1416.68,2500.37 1421.59,2499.93 1426.51,2499.5 1431.44,2499.07 1436.39,2498.64 1441.34,2498.21 1446.31,2497.79 1451.29,2497.37 1456.28,2496.96 1461.29,2496.54 1466.3,2496.13 1471.33,2495.72 1476.37,2495.31 1481.42,2494.91 1486.48,2494.51 1491.56,2494.11 1496.65,2493.71 1501.74,2493.32 1506.86,2492.93 1511.98,2492.54 1517.11,2492.15 1522.26,2491.77 1527.41,2491.39 1532.58,2491.01 1537.76,2490.63 1542.96,2490.26 1548.16,2489.89 1553.38,2489.52 1558.61,2489.15 1563.85,2488.78 1569.1,2488.42 1574.36,2488.06 1579.64,2487.7 1584.93,2487.35 1590.23,2486.99 1595.54,2486.64 1600.86,2486.29 1606.2,2485.95 1611.54,2485.6 1616.9,2485.26 1622.27,2484.92 1627.65,2484.58 1633.05,2484.24 1638.45,2483.91 1643.87,2483.57 1649.3,2483.24 1654.74,2482.91 1660.19,2482.59 1665.66,2482.26 1671.13,2481.94 1676.62,2481.62 1682.12,2481.3 1687.63,2480.98 1693.16,2480.67 1698.69,2480.35 1704.24,2480.04 1709.8,2479.73 1715.37,2479.43 1720.96,2479.12 1726.55,2478.82 1732.16,2478.51 1737.77,2478.21 1743.4,2477.92 1749.05,2477.62 1754.7,2477.32 1760.37,2477.03 1766.04,2476.74 1771.73,2476.45 1777.43,2476.16 1783.15,2475.87 1788.87,2475.59 1794.61,2475.31 1800.36,2475.03 1806.12,2474.75 1811.89,2474.47 1817.67,2474.19 1823.47,2473.92 1829.28,2473.64 1835.09,2473.37 1840.93,2473.1 1846.77,2472.83 1852.62,2472.56 1858.49,2472.3 1864.37,2472.03 1870.26,2471.77 1876.16,2471.51" fill="none" stroke="#0096e0" stroke-width="8.65" stroke-dasharray="43.14 23.2 43.15 23.29 43.4 23.46 43.81 23.74 44.46 24.18 45.53 24.93 47.36 26.24 50.7 28.71 57.12 30.88 53.5 27.28 48.68 25.4 46.11 24.38 44.67 23.79 43.83 23.44 43.31 23.22 42.98 23.08 42.76 22.98 42.62 22.91 42.51 22.87 42.44 22.83 42.39 22.81 42.35 22.79 42.32 22.78 42.3 22.77 42.28 22.76 42.26 22.75 42.25 22.75 42.24 1000"/>
<polyline points="399.2,3298.2 399.21,3298.17 399.22,3298.08 399.25,3297.92 399.29,3297.69 399.35,3297.39 399.41,3297.02 399.49,3296.57 399.58,3296.06 399.68,3295.47 399.79,3294.81 399.91,3294.08 400.05,3293.28 400.2,3292.4 400.36,3291.45 400.53,3290.43 400.71,3289.33 400.91,3288.16 401.11,3286.92 401.33,3285.61 401.56,3284.23 401.81,3282.78 402.06,3281.25 402.33,3279.66 402.6,3278 402.89,3276.26 403.19,3274.47 403.51,3272.6 403.83,3270.67 404.17,3268.67 404.52,3266.6 404.88,3264.48 405.25,3262.29 405.63,3260.03 406.03,3257.72 406.44,3255.34 406.86,3252.91 407.29,3250.42 407.73,3247.87 408.19,3245.26 408.65,3242.6 409.13,3239.88 409.62,3237.11 410.12,3234.29 410.64,3231.42 411.16,3228.49 411.7,3225.52 412.25,3222.5 412.81,3219.44 413.38,3216.33 413.97,3213.17 414.57,3209.97 415.17,3206.74 415.8,3203.46 416.43,3200.14 417.07,3196.78 417.73,3193.39 418.39,3189.96 419.07,3186.5 419.77,3183 420.47,3179.48 421.18,3175.92 421.91,3172.33 422.65,3168.72 423.4,3165.07 424.16,3161.4 424.93,3157.71 425.72,3153.99 426.52,3150.25 427.33,3146.49 428.15,3142.71 428.98,3138.91 429.83,3135.09 430.68,3131.26 431.55,3127.41 432.43,3123.55 433.32,3119.67 434.23,3115.78 435.14,3111.87 436.07,3107.96 437.01,3104.04 437.96,3100.11 438.92,3096.17 439.9,3092.22 440.89,3088.27 441.88,3084.32 442.89,3080.36 443.92,3076.39 444.95,3072.43 446,3068.46 447.05,3064.49 448.12,3060.53 449.2,3056.56 450.3,3052.6 451.4,3048.64 452.52,3044.68 453.65,3040.73 454.79,3036.78 455.94,3032.83 457.1,3028.9 458.28,3024.97 459.47,3021.04 460.67,3017.13 461.88,3013.22 463.1,3009.32 464.33,3005.44 465.58,3001.56 466.84,2997.69 468.11,2993.84 469.39,2989.99 470.68,2986.16 471.99,2982.34 473.31,2978.54 474.64,2974.74 475.98,2970.97 477.33,2967.2 478.7,2963.45 480.07,2959.72 481.46,2956 482.86,2952.3 484.27,2948.61 485.7,2944.94 487.13,2941.29 488.58,2937.65 490.04,2934.03 491.51,2930.43 492.99,2926.85 494.49,2923.28 495.99,2919.74 497.51,2916.21 499.04,2912.7 500.58,2909.21 502.14,2905.73 503.7,2902.28 505.28,2898.85 506.87,2895.43 508.47,2892.04 510.08,2888.66 511.71,2885.31 513.35,2881.97 514.99,2878.66 516.65,2875.37 518.33,2872.09 520.01,2868.84 521.7,2865.6 523.41,2862.39 525.13,2859.2 526.86,2856.03 528.61,2852.88 530.36,2849.75 532.13,2846.64 533.9,2843.55 535.69,2840.48 537.5,2837.43 539.31,2834.41 541.14,2831.4 542.97,2828.42 544.82,2825.45 546.68,2822.51 548.56,2819.59 550.44,2816.68 552.34,2813.8 554.25,2810.94 556.17,2808.1 558.1,2805.28 560.04,2802.48 562,2799.7 563.96,2796.94 565.94,2794.2 567.93,2791.48 569.94,2788.79 571.95,2786.11 573.98,2783.45 576.02,2780.81 578.07,2778.19 580.13,2775.59 582.2,2773.01 584.29,2770.45 586.38,2767.91 588.49,2765.39 590.61,2762.89 592.75,2760.41 594.89,2757.94 597.05,2755.5 599.22,2753.07 601.4,2750.67 603.59,2748.28 605.79,2745.91 608.01,2743.56 610.23,2741.23 612.47,2738.91 614.72,2736.62 616.99,2734.34 619.26,2732.08 621.55,2729.84 623.85,2727.61 626.16,2725.4 628.48,2723.21 630.81,2721.04 633.16,2718.89 635.51,2716.75 637.88,2714.63 640.26,2712.52 642.66,2710.44 645.06,2708.37 647.48,2706.31 649.91,2704.27 652.35,2702.25 654.8,2700.25 657.26,2698.26 659.74,2696.28 662.22,2694.33 664.72,2692.39 667.23,2690.46 669.76,2688.55 672.29,2686.65 674.84,2684.77 677.39,2682.91 679.96,2681.06 682.55,2679.22 685.14,2677.4 687.74,2675.6 690.36,2673.81 692.99,2672.03 695.63,2670.27 698.28,2668.52 700.95,2666.78 703.63,2665.06 706.31,2663.36 709.01,2661.67 711.72,2659.99 714.45,2658.32 717.18,2656.67 719.93,2655.03 722.69,2653.4 725.46,2651.79 728.24,2650.19 731.04,2648.6 733.84,2647.03 736.66,2645.47 739.49,2643.92 742.33,2642.38 745.19,2640.86 748.05,2639.35 750.93,2637.85 753.82,2636.36 756.72,2634.88 759.63,2633.42 762.56,2631.97 765.49,2630.52 768.44,2629.09 771.4,2627.68 774.37,2626.27 777.35,2624.87 780.35,2623.49 783.36,2622.11 786.38,2620.75 789.41,2619.4 792.45,2618.06 795.5,2616.73 798.57,2615.41 801.65,2614.1 804.74,2612.8 807.84,2611.51 810.95,2610.23 814.08,2608.96 817.22,2607.7 820.36,2606.45 823.52,2605.21 826.7,2603.98 829.88,2602.76 833.08,2601.55 836.29,2600.35 839.51,2599.16 842.74,2597.98 845.98,2596.81 849.24,2595.64 852.5,2594.49 855.78,2593.34 859.07,2592.2 862.37,2591.07 865.69,2589.95 869.02,2588.84 872.35,2587.74 875.7,2586.65 879.06,2585.56 882.44,2584.48 885.82,2583.41 889.22,2582.35 892.63,2581.3 896.05,2580.26 899.48,2579.22 902.93,2578.19 906.38,2577.17 909.85,2576.16 913.33,2575.15 916.82,2574.15 920.32,2573.16 923.84,2572.18 927.37,2571.21 930.91,2570.24 934.46,2569.28 938.02,2568.32 941.59,2567.38 945.18,2566.44 948.78,2565.5 952.39,2564.58 956.01,2563.66 959.64,2562.75 963.29,2561.84 966.94,2560.95 970.61,2560.06 974.29,2559.17 977.99,2558.29 981.69,2557.42 985.41,2556.56 989.13,2555.7 992.87,2554.84 996.62,2554 1000.39,2553.16 1004.16,2552.32 1007.95,2551.5 1011.75,2550.67 1015.56,2549.86 1019.38,2549.05 1023.22,2548.24 1027.06,2547.45 1030.92,2546.65 1034.79,2545.87 1038.67,2545.09 1042.56,2544.31 1046.47,2543.54 1050.39,2542.78 1054.31,2542.02 1058.25,2541.26 1062.21,2540.52 1066.17,2539.77 1070.15,2539.04 1074.14,2538.3 1078.13,2537.58 1082.15,2536.86 1086.17,2536.14 1090.2,2535.43 1094.25,2534.72 1098.31,2534.02 1102.38,2533.32 1106.46,2532.63 1110.56,2531.95 1114.66,2531.26 1118.78,2530.59 1122.91,2529.91 1127.05,2529.25 1131.21,2528.58 1135.37,2527.93 1139.55,2527.27 1143.74,2526.62 1147.94,2525.98 1152.15,2525.34 1156.37,2524.7 1160.61,2524.07 1164.86,2523.44 1169.12,2522.82 1173.39,2522.2 1177.67,2521.59 1181.97,2520.98 1186.27,2520.37 1190.59,2519.77 1194.92,2519.17 1199.26,2518.58 1203.62,2517.99 1207.98,2517.4 1212.36,2516.82 1216.75,2516.24 1221.15,2515.67 1225.57,2515.1 1229.99,2514.53 1234.43,2513.97 1238.88,2513.41 1243.34,2512.85 1247.81,2512.3 1252.29,2511.76 1256.79,2511.21 1261.3,2510.67 1265.82,2510.13 1270.35,2509.6 1274.89,2509.07 1279.44,2508.55 1284.01,2508.02 1288.59,2507.5 1293.18,2506.99 1297.78,2506.47 1302.4,2505.97 1307.02,2505.46 1311.66,2504.96 1316.31,2504.46 1320.97,2503.96 1325.64,2503.47 1330.33,2502.98 1335.03,2502.49 1339.73,2502.01 1344.45,2501.53 1349.19,2501.05 1353.93,2500.58 1358.69,2500.11 1363.45,2499.64 1368.23,2499.17 1373.02,2498.71 1377.83,2498.25 1382.64,2497.8 1387.47,2497.34 1392.31,2496.89 1397.16,2496.45 1402.02,2496 1406.89,2495.56 1411.78,2495.12 1416.68,2494.68 1421.59,2494.25 1426.51,2493.82 1431.44,2493.39 1436.39,2492.96 1441.34,2492.54 1446.31,2492.12 1451.29,2491.7 1456.28,2491.29 1461.29,2490.88 1466.3,2490.47 1471.33,2490.06 1476.37,2489.65 1481.42,2489.25 1486.48,2488.85 1491.56,2488.45 1496.65,2488.06 1501.74,2487.67 1506.86,2487.28 1511.98,2486.89 1517.11,2486.5 1522.26,2486.12 1527.41,2485.74 1532.58,2485.36 1537.76,2484.98 1542.96,2484.61 1548.16,2484.24 1553.38,2483.87 1558.61,2483.5 1563.85,2483.14 1569.1,2482.77 1574.36,2482.41 1579.64,2482.05 1584.93,2481.7 1590.23,2481.34 1595.54,2480.99 1600.86,2480.64 1606.2,2480.29 1611.54,2479.95 1616.9,2479.6 1622.27,2479.26 1627.65,2478.92 1633.05,2478.58 1638.45,2478.25 1643.87,2477.91 1649.3,2477.58 1654.74,2477.25 1660.19,2476.92 1665.66,2476.6 1671.13,2476.27 1676.62,2475.95 1682.12,2475.63 1687.63,2475.31 1693.16,2474.99 1698.69,2474.68 1704.24,2474.36 1709.8,2474.05 1715.37,2473.74 1720.96,2473.44 1726.55,2473.13 1732.16,2472.82 1737.77,2472.52 1743.4,2472.22 1749.05,2471.92 1754.7,2471.62 1760.37,2471.33 1766.04,2471.03 1771.73,2470.74 1777.43,2470.45 1783.15,2470.16 1788.87,2469.87 1794.61,2469.59 1800.36,2469.3 1806.12,2469.02 1811.89,2468.74 1817.67,2468.46 1823.47,2468.18 1829.28,2467.9 1835.09,2467.63 1840.93,2467.36 1846.77,2467.08 1852.62,2466.81 1858.49,2466.54 1864.37,2466.28 1870.26,2466.01 1876.16,2465.75" fill="none" stroke="#ff6f6f" stroke-width="8.65" stroke-dasharray="42.8 23.13 42.93 23.23 43.17 23.4 43.56 23.65 44.16 24.07 45.17 24.78 46.9 26.03 50.09 28.4 56.31 31.38 53.99 27.51 48.87 25.54 46.2 24.48 44.72 23.87 43.86 23.51 43.33 23.29 43 23.14 42.78 23.05 42.63 22.98 42.52 22.93 42.45 22.9 42.39 22.87 42.35 22.85 42.32 22.84 42.3 22.83 42.28 22.82 42.27 22.81 42.26 22.81 42.25 22.8 3.6 1000"/>
</svg>
</body></html>
